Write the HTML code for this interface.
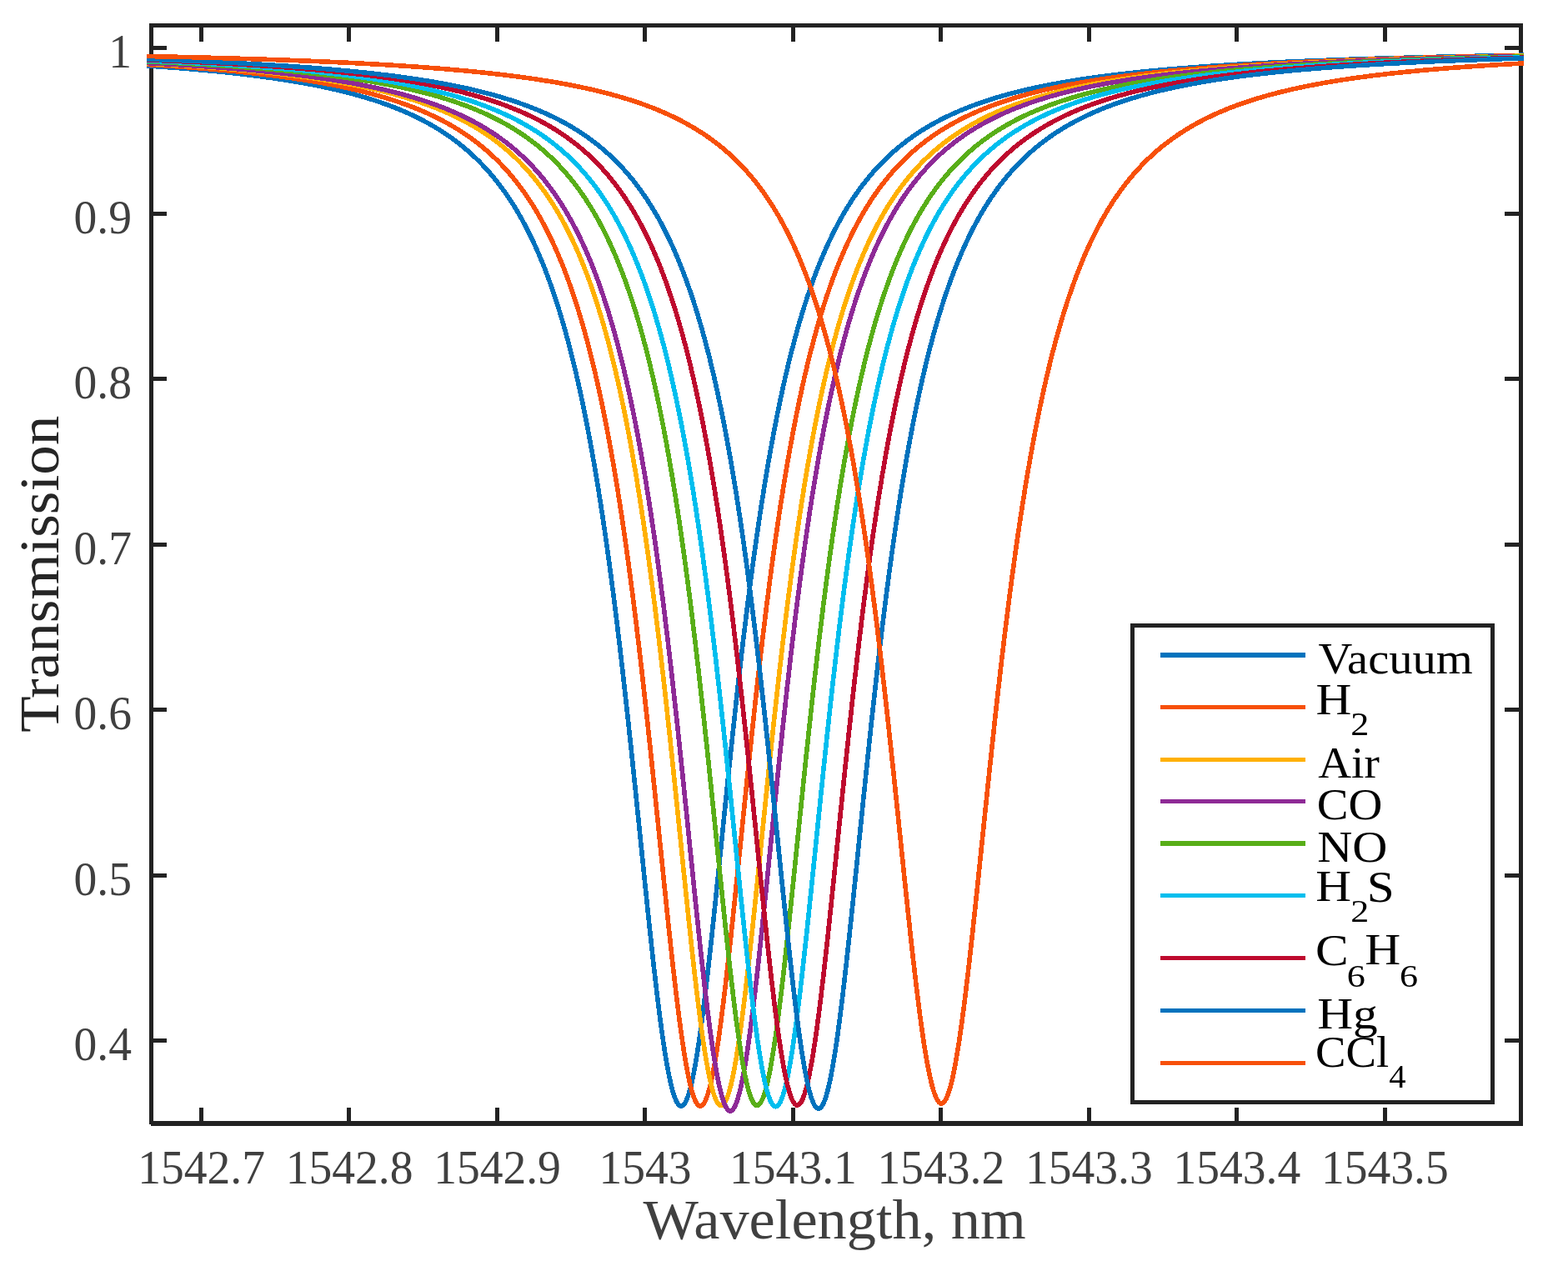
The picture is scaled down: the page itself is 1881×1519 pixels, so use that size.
<!DOCTYPE html>
<html lang="en"><head><meta charset="utf-8"><title>Transmission vs Wavelength</title>
<style>
html,body{margin:0;padding:0;background:#fff;}
body{width:1881px;height:1519px;overflow:hidden;}
svg{display:block;}
text{font-family:"Liberation Serif",serif;}
</style></head><body>
<svg width="1881" height="1519" viewBox="0 0 1881 1519">
<rect x="0" y="0" width="1881" height="1519" fill="#ffffff"/>
<defs><clipPath id="cp"><rect x="176" y="20" width="1652" height="1340"/></clipPath></defs>
<g fill="#222222" shape-rendering="crispEdges">
<rect x="179" y="28" width="5" height="1321"/>
<rect x="1822" y="28" width="5" height="1323"/>
<rect x="179" y="28" width="1648" height="5"/>
<rect x="181" y="1345" width="1646" height="6"/>
<rect x="239" y="28" width="5" height="22"/>
<rect x="239" y="1329" width="5" height="22"/>
<rect x="416" y="28" width="5" height="22"/>
<rect x="416" y="1329" width="5" height="22"/>
<rect x="594" y="28" width="5" height="22"/>
<rect x="594" y="1329" width="5" height="22"/>
<rect x="771" y="28" width="5" height="22"/>
<rect x="771" y="1329" width="5" height="22"/>
<rect x="949" y="28" width="5" height="22"/>
<rect x="949" y="1329" width="5" height="22"/>
<rect x="1126" y="28" width="5" height="22"/>
<rect x="1126" y="1329" width="5" height="22"/>
<rect x="1304" y="28" width="5" height="22"/>
<rect x="1304" y="1329" width="5" height="22"/>
<rect x="1481" y="28" width="5" height="22"/>
<rect x="1481" y="1329" width="5" height="22"/>
<rect x="1659" y="28" width="5" height="22"/>
<rect x="1659" y="1329" width="5" height="22"/>
<rect x="179" y="55" width="21" height="5"/>
<rect x="1805" y="55" width="22" height="5"/>
<rect x="179" y="254" width="21" height="5"/>
<rect x="1805" y="254" width="22" height="5"/>
<rect x="179" y="452" width="21" height="5"/>
<rect x="1805" y="452" width="22" height="5"/>
<rect x="179" y="651" width="21" height="5"/>
<rect x="1805" y="651" width="22" height="5"/>
<rect x="179" y="849" width="21" height="5"/>
<rect x="1805" y="849" width="22" height="5"/>
<rect x="179" y="1048" width="21" height="5"/>
<rect x="1805" y="1048" width="22" height="5"/>
<rect x="179" y="1246" width="21" height="5"/>
<rect x="1805" y="1246" width="22" height="5"/>
</g>
<g clip-path="url(#cp)" fill="none" stroke-width="5.6" stroke-linejoin="round" stroke-linecap="butt" shape-rendering="crispEdges">
<path stroke="#0072BD" d="M172.0,78.67 L175.0,78.86 L178.0,79.06 L181.0,79.26 L184.0,79.47 L187.0,79.67 L190.0,79.88 L193.0,80.09 L196.0,80.31 L199.0,80.52 L202.0,80.75 L205.0,80.97 L208.0,81.20 L211.0,81.43 L214.0,81.66 L217.0,81.90 L220.0,82.14 L223.0,82.39 L226.0,82.63 L229.0,82.89 L232.0,83.14 L235.0,83.40 L238.0,83.66 L241.0,83.93 L244.0,84.20 L247.0,84.48 L250.0,84.76 L253.0,85.04 L256.0,85.33 L259.0,85.63 L262.0,85.92 L265.0,86.23 L268.0,86.53 L271.0,86.85 L274.0,87.16 L277.0,87.49 L280.0,87.81 L283.0,88.15 L286.0,88.49 L289.0,88.83 L292.0,89.18 L295.0,89.54 L298.0,89.90 L301.0,90.27 L304.0,90.64 L307.0,91.02 L310.0,91.41 L313.0,91.80 L316.0,92.20 L319.0,92.61 L322.0,93.03 L325.0,93.45 L328.0,93.88 L331.0,94.32 L334.0,94.76 L337.0,95.21 L340.0,95.68 L343.0,96.15 L346.0,96.62 L349.0,97.11 L352.0,97.61 L355.0,98.11 L358.0,98.63 L361.0,99.15 L364.0,99.69 L367.0,100.23 L370.0,100.79 L373.0,101.36 L376.0,101.93 L379.0,102.52 L382.0,103.12 L385.0,103.74 L388.0,104.36 L391.0,105.00 L394.0,105.65 L397.0,106.31 L400.0,106.99 L403.0,107.68 L406.0,108.39 L409.0,109.11 L412.0,109.84 L415.0,110.59 L418.0,111.36 L421.0,112.14 L424.0,112.94 L427.0,113.76 L430.0,114.60 L433.0,115.45 L436.0,116.33 L439.0,117.22 L442.0,118.13 L445.0,119.07 L448.0,120.02 L451.0,121.00 L454.0,122.00 L457.0,123.02 L460.0,124.07 L463.0,125.14 L466.0,126.24 L469.0,127.37 L472.0,128.52 L475.0,129.70 L478.0,130.91 L481.0,132.15 L484.0,133.42 L487.0,134.72 L490.0,136.05 L493.0,137.42 L496.0,138.83 L499.0,140.27 L502.0,141.75 L505.0,143.26 L508.0,144.82 L511.0,146.42 L514.0,148.06 L517.0,149.75 L520.0,151.48 L523.0,153.27 L526.0,155.10 L529.0,156.98 L532.0,158.92 L535.0,160.91 L538.0,162.96 L541.0,165.07 L544.0,167.24 L547.0,169.47 L550.0,171.78 L553.0,174.15 L556.0,176.59 L559.0,179.11 L562.0,181.70 L565.0,184.38 L568.0,187.14 L571.0,189.99 L574.0,192.93 L577.0,195.96 L580.0,199.09 L583.0,202.33 L586.0,205.67 L589.0,209.13 L592.0,212.70 L595.0,216.39 L598.0,220.21 L601.0,224.16 L604.0,228.25 L607.0,232.49 L610.0,236.87 L613.0,241.41 L616.0,246.12 L619.0,251.00 L622.0,256.06 L625.0,261.31 L628.0,266.75 L631.0,272.40 L634.0,278.27 L637.0,284.36 L640.0,290.68 L643.0,297.26 L646.0,304.09 L649.0,311.20 L652.0,318.59 L655.0,326.28 L658.0,334.28 L661.0,342.61 L664.0,351.28 L667.0,360.31 L670.0,369.72 L671.0,372.94 L672.0,376.21 L673.0,379.53 L674.0,382.88 L675.0,386.29 L676.0,389.74 L677.0,393.24 L678.0,396.79 L679.0,400.39 L680.0,404.04 L681.0,407.75 L682.0,411.50 L683.0,415.30 L684.0,419.16 L685.0,423.08 L686.0,427.05 L687.0,431.07 L688.0,435.15 L689.0,439.29 L690.0,443.49 L691.0,447.75 L692.0,452.07 L693.0,456.44 L694.0,460.88 L695.0,465.39 L696.0,469.95 L697.0,474.59 L698.0,479.28 L699.0,484.05 L700.0,488.88 L701.0,493.78 L702.0,498.74 L703.0,503.78 L704.0,508.89 L705.0,514.07 L706.0,519.32 L707.0,524.65 L708.0,530.05 L709.0,535.53 L710.0,541.08 L711.0,546.71 L712.0,552.42 L713.0,558.20 L714.0,564.07 L715.0,570.02 L716.0,576.04 L717.0,582.15 L718.0,588.35 L719.0,594.62 L720.0,600.98 L721.0,607.43 L722.0,613.96 L723.0,620.58 L724.0,627.28 L725.0,634.07 L726.0,640.95 L727.0,647.92 L728.0,654.97 L729.0,662.12 L730.0,669.35 L731.0,676.68 L732.0,684.09 L733.0,691.59 L734.0,699.19 L735.0,706.87 L736.0,714.65 L737.0,722.51 L738.0,730.46 L739.0,738.50 L740.0,746.63 L741.0,754.85 L742.0,763.16 L743.0,771.55 L744.0,780.02 L745.0,788.58 L746.0,797.23 L747.0,805.95 L748.0,814.76 L749.0,823.65 L750.0,832.61 L751.0,841.64 L752.0,850.75 L753.0,859.93 L754.0,869.18 L755.0,878.49 L756.0,887.87 L757.0,897.30 L758.0,906.79 L759.0,916.33 L760.0,925.92 L761.0,935.56 L762.0,945.23 L763.0,954.94 L764.0,964.68 L765.0,974.45 L766.0,984.24 L767.0,994.05 L768.0,1003.86 L769.0,1013.68 L770.0,1023.49 L771.0,1033.30 L772.0,1043.09 L773.0,1052.86 L774.0,1062.59 L775.0,1072.29 L776.0,1081.95 L777.0,1091.55 L778.0,1101.09 L778.5,1105.83 L779.0,1110.56 L779.5,1115.26 L780.0,1119.95 L780.5,1124.61 L781.0,1129.25 L781.5,1133.87 L782.0,1138.46 L782.5,1143.02 L783.0,1147.56 L783.5,1152.07 L784.0,1156.55 L784.5,1160.99 L785.0,1165.41 L785.5,1169.79 L786.0,1174.14 L786.5,1178.45 L787.0,1182.72 L787.5,1186.95 L788.0,1191.15 L788.5,1195.30 L789.0,1199.41 L789.5,1203.48 L790.0,1207.50 L790.5,1211.48 L791.0,1215.41 L791.5,1219.29 L792.0,1223.12 L792.5,1226.91 L793.0,1230.63 L793.5,1234.31 L794.0,1237.93 L794.5,1241.49 L795.0,1245.00 L795.5,1248.45 L796.0,1251.84 L796.5,1255.17 L797.0,1258.44 L797.5,1261.64 L798.0,1264.78 L798.5,1267.86 L799.0,1270.86 L799.5,1273.80 L800.0,1276.68 L800.5,1279.48 L801.0,1282.21 L801.5,1284.87 L802.0,1287.45 L802.5,1289.97 L803.0,1292.41 L803.5,1294.77 L804.0,1297.05 L804.5,1299.26 L805.0,1301.39 L805.5,1303.44 L806.0,1305.41 L806.5,1307.30 L807.0,1309.11 L807.5,1310.83 L808.0,1312.47 L808.5,1314.03 L809.0,1315.50 L809.5,1316.89 L810.0,1318.19 L810.5,1319.41 L811.0,1320.54 L811.5,1321.58 L812.0,1322.54 L812.5,1323.40 L813.0,1324.18 L813.5,1324.87 L814.0,1325.47 L814.5,1325.98 L815.0,1326.41 L815.5,1326.74 L816.0,1326.98 L816.5,1327.14 L817.0,1327.20 L817.5,1327.17 L818.0,1327.05 L818.5,1326.85 L819.0,1326.55 L819.5,1326.16 L820.0,1325.69 L820.5,1325.12 L821.0,1324.47 L821.5,1323.73 L822.0,1322.89 L822.5,1321.97 L823.0,1320.97 L823.5,1319.87 L824.0,1318.69 L824.5,1317.42 L825.0,1316.07 L825.5,1314.63 L826.0,1313.10 L826.5,1311.50 L827.0,1309.81 L827.5,1308.03 L828.0,1306.17 L828.5,1304.24 L829.0,1302.22 L829.5,1300.12 L830.0,1297.95 L830.5,1295.69 L831.0,1293.36 L831.5,1290.95 L832.0,1288.47 L832.5,1285.91 L833.0,1283.28 L833.5,1280.58 L834.0,1277.80 L834.5,1274.96 L835.0,1272.05 L835.5,1269.07 L836.0,1266.02 L836.5,1262.90 L837.0,1259.73 L837.5,1256.48 L838.0,1253.18 L838.5,1249.81 L839.0,1246.39 L839.5,1242.90 L840.0,1239.36 L840.5,1235.76 L841.0,1232.11 L841.5,1228.40 L842.0,1224.64 L842.5,1220.83 L843.0,1216.97 L843.5,1213.06 L844.0,1209.10 L844.5,1205.10 L845.0,1201.05 L845.5,1196.95 L846.0,1192.81 L846.5,1188.64 L847.0,1184.42 L847.5,1180.16 L848.0,1175.86 L848.5,1171.53 L849.0,1167.17 L849.5,1162.76 L850.0,1158.33 L850.5,1153.86 L851.0,1149.37 L851.5,1144.84 L852.0,1140.29 L852.5,1135.71 L853.0,1131.10 L853.5,1126.47 L854.0,1121.82 L854.5,1117.14 L855.0,1112.44 L855.5,1107.72 L856.0,1102.99 L856.5,1098.23 L857.0,1093.46 L857.5,1088.67 L858.5,1079.06 L859.5,1069.39 L860.5,1059.67 L861.5,1049.93 L862.5,1040.15 L863.5,1030.36 L864.5,1020.55 L865.5,1010.73 L866.5,1000.91 L867.5,991.10 L868.5,981.30 L869.5,971.52 L870.5,961.76 L871.5,952.03 L872.5,942.33 L873.5,932.66 L874.5,923.04 L875.5,913.46 L876.5,903.94 L877.5,894.46 L878.5,885.05 L879.5,875.69 L880.5,866.40 L881.5,857.17 L882.5,848.01 L883.5,838.92 L884.5,829.91 L885.5,820.97 L886.5,812.11 L887.5,803.33 L888.5,794.63 L889.5,786.01 L890.5,777.47 L891.5,769.02 L892.5,760.65 L893.5,752.38 L894.5,744.18 L895.5,736.08 L896.5,728.07 L897.5,720.14 L898.5,712.30 L899.5,704.56 L900.5,696.90 L901.5,689.33 L902.5,681.86 L903.5,674.47 L904.5,667.17 L905.5,659.97 L906.5,652.85 L907.5,645.82 L908.5,638.88 L909.5,632.02 L910.5,625.26 L911.5,618.58 L912.5,611.99 L913.5,605.49 L914.5,599.07 L915.5,592.73 L916.5,586.48 L917.5,580.31 L918.5,574.23 L919.5,568.22 L920.5,562.30 L921.5,556.46 L922.5,550.70 L923.5,545.01 L924.5,539.41 L925.5,533.88 L926.5,528.42 L927.5,523.04 L928.5,517.74 L929.5,512.51 L930.5,507.35 L931.5,502.26 L932.5,497.25 L933.5,492.30 L934.5,487.42 L935.5,482.61 L936.5,477.87 L937.5,473.19 L938.5,468.58 L939.5,464.03 L940.5,459.55 L941.5,455.12 L942.5,450.76 L943.5,446.46 L944.5,442.23 L945.5,438.04 L946.5,433.92 L947.5,429.86 L948.5,425.85 L949.5,421.90 L950.5,418.00 L951.5,414.16 L952.5,410.37 L953.5,406.63 L954.5,402.94 L955.5,399.31 L956.5,395.72 L957.5,392.19 L958.5,388.70 L959.5,385.26 L960.5,381.87 L961.5,378.53 L962.5,375.23 L963.5,371.97 L964.5,368.76 L965.5,365.60 L966.5,362.47 L967.5,359.39 L970.5,350.40 L973.5,341.76 L976.5,333.46 L979.5,325.49 L982.5,317.84 L985.5,310.48 L988.5,303.40 L991.5,296.59 L994.5,290.04 L997.5,283.74 L1000.5,277.67 L1003.5,271.83 L1006.5,266.20 L1009.5,260.77 L1012.5,255.55 L1015.5,250.50 L1018.5,245.64 L1021.5,240.95 L1024.5,236.43 L1027.5,232.06 L1030.5,227.84 L1033.5,223.76 L1036.5,219.82 L1039.5,216.02 L1042.5,212.34 L1045.5,208.78 L1048.5,205.33 L1051.5,202.00 L1054.5,198.78 L1057.5,195.65 L1060.5,192.63 L1063.5,189.70 L1066.5,186.86 L1069.5,184.11 L1072.5,181.44 L1075.5,178.85 L1078.5,176.34 L1081.5,173.91 L1084.5,171.54 L1087.5,169.25 L1090.5,167.02 L1093.5,164.85 L1096.5,162.75 L1099.5,160.71 L1102.5,158.72 L1105.5,156.79 L1108.5,154.91 L1111.5,153.09 L1114.5,151.31 L1117.5,149.58 L1120.5,147.90 L1123.5,146.26 L1126.5,144.66 L1129.5,143.11 L1132.5,141.60 L1135.5,140.12 L1138.5,138.68 L1141.5,137.28 L1144.5,135.92 L1147.5,134.59 L1150.5,133.29 L1153.5,132.02 L1156.5,130.79 L1159.5,129.58 L1162.5,128.40 L1165.5,127.25 L1168.5,126.13 L1171.5,125.04 L1174.5,123.97 L1177.5,122.92 L1180.5,121.90 L1183.5,120.90 L1186.5,119.93 L1189.5,118.97 L1192.5,118.04 L1195.5,117.13 L1198.5,116.24 L1201.5,115.37 L1204.5,114.51 L1207.5,113.68 L1210.5,112.86 L1213.5,112.07 L1216.5,111.28 L1219.5,110.52 L1222.5,109.77 L1225.5,109.03 L1228.5,108.32 L1231.5,107.61 L1234.5,106.92 L1237.5,106.25 L1240.5,105.58 L1243.5,104.93 L1246.5,104.30 L1249.5,103.67 L1252.5,103.06 L1255.5,102.46 L1258.5,101.88 L1261.5,101.30 L1264.5,100.73 L1267.5,100.18 L1270.5,99.63 L1273.5,99.10 L1276.5,98.58 L1279.5,98.06 L1282.5,97.56 L1285.5,97.06 L1288.5,96.58 L1291.5,96.10 L1294.5,95.63 L1297.5,95.17 L1300.5,94.72 L1303.5,94.27 L1306.5,93.83 L1309.5,93.41 L1312.5,92.98 L1315.5,92.57 L1318.5,92.16 L1321.5,91.76 L1324.5,91.37 L1327.5,90.98 L1330.5,90.60 L1333.5,90.23 L1336.5,89.86 L1339.5,89.50 L1342.5,89.15 L1345.5,88.80 L1348.5,88.45 L1351.5,88.11 L1354.5,87.78 L1357.5,87.45 L1360.5,87.13 L1363.5,86.82 L1366.5,86.50 L1369.5,86.20 L1372.5,85.89 L1375.5,85.60 L1378.5,85.30 L1381.5,85.02 L1384.5,84.73 L1387.5,84.45 L1390.5,84.18 L1393.5,83.90 L1396.5,83.64 L1399.5,83.37 L1402.5,83.12 L1405.5,82.86 L1408.5,82.61 L1411.5,82.36 L1414.5,82.12 L1417.5,81.88 L1420.5,81.64 L1423.5,81.40 L1426.5,81.17 L1429.5,80.95 L1432.5,80.72 L1435.5,80.50 L1438.5,80.29 L1441.5,80.07 L1444.5,79.86 L1447.5,79.65 L1450.5,79.44 L1453.5,79.24 L1456.5,79.04 L1459.5,78.84 L1462.5,78.65 L1465.5,78.46 L1468.5,78.27 L1471.5,78.08 L1474.5,77.90 L1477.5,77.72 L1480.5,77.54 L1483.5,77.36 L1486.5,77.18 L1489.5,77.01 L1492.5,76.84 L1495.5,76.67 L1498.5,76.51 L1501.5,76.34 L1504.5,76.18 L1507.5,76.02 L1510.5,75.86 L1513.5,75.71 L1516.5,75.55 L1519.5,75.40 L1522.5,75.25 L1525.5,75.11 L1528.5,74.96 L1531.5,74.81 L1534.5,74.67 L1537.5,74.53 L1540.5,74.39 L1543.5,74.25 L1546.5,74.12 L1549.5,73.98 L1552.5,73.85 L1555.5,73.72 L1558.5,73.59 L1561.5,73.46 L1564.5,73.34 L1567.5,73.21 L1570.5,73.09 L1573.5,72.97 L1576.5,72.85 L1579.5,72.73 L1582.5,72.61 L1585.5,72.49 L1588.5,72.38 L1591.5,72.27 L1594.5,72.15 L1597.5,72.04 L1600.5,71.93 L1603.5,71.82 L1606.5,71.72 L1609.5,71.61 L1612.5,71.50 L1615.5,71.40 L1618.5,71.30 L1621.5,71.20 L1624.5,71.10 L1627.5,71.00 L1630.5,70.90 L1633.5,70.80 L1636.5,70.70 L1639.5,70.61 L1642.5,70.52 L1645.5,70.42 L1648.5,70.33 L1651.5,70.24 L1654.5,70.15 L1657.5,70.06 L1660.5,69.97 L1663.5,69.88 L1666.5,69.80 L1669.5,69.71 L1672.5,69.63 L1675.5,69.54 L1678.5,69.46 L1681.5,69.38 L1684.5,69.30 L1687.5,69.22 L1690.5,69.14 L1693.5,69.06 L1696.5,68.98 L1699.5,68.90 L1702.5,68.83 L1705.5,68.75 L1708.5,68.68 L1711.5,68.60 L1714.5,68.53 L1717.5,68.46 L1720.5,68.38 L1723.5,68.31 L1726.5,68.24 L1729.5,68.17 L1732.5,68.10 L1735.5,68.03 L1738.5,67.97 L1741.5,67.90 L1744.5,67.83 L1747.5,67.77 L1750.5,67.70 L1753.5,67.64 L1756.5,67.57 L1759.5,67.51 L1762.5,67.45 L1765.5,67.38 L1768.5,67.32 L1771.5,67.26 L1774.5,67.20 L1777.5,67.14 L1780.5,67.08 L1783.5,67.02 L1786.5,66.96 L1789.5,66.90 L1792.5,66.85 L1795.5,66.79 L1798.5,66.73 L1801.5,66.68 L1804.5,66.62 L1807.5,66.57 L1810.5,66.51 L1813.5,66.46 L1816.5,66.41 L1819.5,66.35 L1822.5,66.30 L1825.5,66.25 L1828.5,66.20 L1831.5,66.15"/>
<path stroke="#F7500A" d="M172.0,77.26 L175.0,77.43 L178.0,77.61 L181.0,77.79 L184.0,77.98 L187.0,78.16 L190.0,78.35 L193.0,78.54 L196.0,78.73 L199.0,78.93 L202.0,79.13 L205.0,79.33 L208.0,79.53 L211.0,79.74 L214.0,79.95 L217.0,80.16 L220.0,80.38 L223.0,80.60 L226.0,80.82 L229.0,81.05 L232.0,81.27 L235.0,81.51 L238.0,81.74 L241.0,81.98 L244.0,82.22 L247.0,82.47 L250.0,82.72 L253.0,82.97 L256.0,83.23 L259.0,83.49 L262.0,83.75 L265.0,84.02 L268.0,84.29 L271.0,84.57 L274.0,84.85 L277.0,85.14 L280.0,85.43 L283.0,85.72 L286.0,86.02 L289.0,86.33 L292.0,86.64 L295.0,86.95 L298.0,87.27 L301.0,87.60 L304.0,87.93 L307.0,88.26 L310.0,88.60 L313.0,88.95 L316.0,89.30 L319.0,89.66 L322.0,90.02 L325.0,90.39 L328.0,90.77 L331.0,91.15 L334.0,91.54 L337.0,91.94 L340.0,92.34 L343.0,92.75 L346.0,93.17 L349.0,93.59 L352.0,94.02 L355.0,94.46 L358.0,94.91 L361.0,95.37 L364.0,95.83 L367.0,96.30 L370.0,96.79 L373.0,97.28 L376.0,97.78 L379.0,98.28 L382.0,98.80 L385.0,99.33 L388.0,99.87 L391.0,100.42 L394.0,100.98 L397.0,101.55 L400.0,102.13 L403.0,102.72 L406.0,103.33 L409.0,103.94 L412.0,104.57 L415.0,105.21 L418.0,105.87 L421.0,106.54 L424.0,107.22 L427.0,107.91 L430.0,108.62 L433.0,109.35 L436.0,110.09 L439.0,110.85 L442.0,111.62 L445.0,112.41 L448.0,113.22 L451.0,114.04 L454.0,114.88 L457.0,115.74 L460.0,116.62 L463.0,117.52 L466.0,118.44 L469.0,119.38 L472.0,120.35 L475.0,121.33 L478.0,122.34 L481.0,123.37 L484.0,124.43 L487.0,125.51 L490.0,126.61 L493.0,127.75 L496.0,128.91 L499.0,130.10 L502.0,131.32 L505.0,132.57 L508.0,133.85 L511.0,135.16 L514.0,136.51 L517.0,137.89 L520.0,139.30 L523.0,140.76 L526.0,142.25 L529.0,143.78 L532.0,145.35 L535.0,146.96 L538.0,148.62 L541.0,150.32 L544.0,152.07 L547.0,153.87 L550.0,155.72 L553.0,157.62 L556.0,159.58 L559.0,161.59 L562.0,163.65 L565.0,165.78 L568.0,167.98 L571.0,170.23 L574.0,172.56 L577.0,174.95 L580.0,177.42 L583.0,179.96 L586.0,182.59 L589.0,185.29 L592.0,188.08 L595.0,190.96 L598.0,193.93 L601.0,196.99 L604.0,200.16 L607.0,203.43 L610.0,206.81 L613.0,210.30 L616.0,213.92 L619.0,217.65 L622.0,221.51 L625.0,225.51 L628.0,229.65 L631.0,233.93 L634.0,238.37 L637.0,242.97 L640.0,247.73 L643.0,252.67 L646.0,257.79 L649.0,263.10 L652.0,268.61 L655.0,274.33 L658.0,280.27 L661.0,286.44 L664.0,292.85 L667.0,299.51 L670.0,306.43 L673.0,313.63 L676.0,321.12 L679.0,328.91 L682.0,337.02 L685.0,345.46 L688.0,354.25 L691.0,363.41 L692.0,366.54 L693.0,369.72 L694.0,372.94 L695.0,376.21 L696.0,379.53 L697.0,382.88 L698.0,386.29 L699.0,389.74 L700.0,393.24 L701.0,396.79 L702.0,400.39 L703.0,404.04 L704.0,407.75 L705.0,411.50 L706.0,415.30 L707.0,419.16 L708.0,423.08 L709.0,427.05 L710.0,431.07 L711.0,435.15 L712.0,439.29 L713.0,443.49 L714.0,447.75 L715.0,452.07 L716.0,456.44 L717.0,460.88 L718.0,465.39 L719.0,469.95 L720.0,474.59 L721.0,479.28 L722.0,484.05 L723.0,488.88 L724.0,493.78 L725.0,498.74 L726.0,503.78 L727.0,508.89 L728.0,514.07 L729.0,519.32 L730.0,524.65 L731.0,530.05 L732.0,535.53 L733.0,541.08 L734.0,546.71 L735.0,552.42 L736.0,558.20 L737.0,564.07 L738.0,570.02 L739.0,576.04 L740.0,582.15 L741.0,588.35 L742.0,594.62 L743.0,600.98 L744.0,607.43 L745.0,613.96 L746.0,620.58 L747.0,627.28 L748.0,634.07 L749.0,640.95 L750.0,647.92 L751.0,654.97 L752.0,662.12 L753.0,669.35 L754.0,676.68 L755.0,684.09 L756.0,691.59 L757.0,699.19 L758.0,706.87 L759.0,714.65 L760.0,722.51 L761.0,730.46 L762.0,738.50 L763.0,746.63 L764.0,754.85 L765.0,763.16 L766.0,771.55 L767.0,780.02 L768.0,788.58 L769.0,797.23 L770.0,805.95 L771.0,814.76 L772.0,823.65 L773.0,832.61 L774.0,841.64 L775.0,850.75 L776.0,859.93 L777.0,869.18 L778.0,878.49 L779.0,887.87 L780.0,897.30 L781.0,906.79 L782.0,916.33 L783.0,925.92 L784.0,935.56 L785.0,945.23 L786.0,954.94 L787.0,964.68 L788.0,974.45 L789.0,984.24 L790.0,994.05 L791.0,1003.86 L792.0,1013.68 L793.0,1023.49 L794.0,1033.30 L795.0,1043.09 L796.0,1052.86 L797.0,1062.59 L798.0,1072.29 L799.0,1081.95 L800.0,1091.55 L801.0,1101.09 L801.5,1105.83 L802.0,1110.56 L802.5,1115.26 L803.0,1119.95 L803.5,1124.61 L804.0,1129.25 L804.5,1133.87 L805.0,1138.46 L805.5,1143.02 L806.0,1147.56 L806.5,1152.07 L807.0,1156.55 L807.5,1160.99 L808.0,1165.41 L808.5,1169.79 L809.0,1174.14 L809.5,1178.45 L810.0,1182.72 L810.5,1186.95 L811.0,1191.15 L811.5,1195.30 L812.0,1199.41 L812.5,1203.48 L813.0,1207.50 L813.5,1211.48 L814.0,1215.41 L814.5,1219.29 L815.0,1223.12 L815.5,1226.91 L816.0,1230.63 L816.5,1234.31 L817.0,1237.93 L817.5,1241.49 L818.0,1245.00 L818.5,1248.45 L819.0,1251.84 L819.5,1255.17 L820.0,1258.44 L820.5,1261.64 L821.0,1264.78 L821.5,1267.86 L822.0,1270.86 L822.5,1273.80 L823.0,1276.68 L823.5,1279.48 L824.0,1282.21 L824.5,1284.87 L825.0,1287.45 L825.5,1289.97 L826.0,1292.41 L826.5,1294.77 L827.0,1297.05 L827.5,1299.26 L828.0,1301.39 L828.5,1303.44 L829.0,1305.41 L829.5,1307.30 L830.0,1309.11 L830.5,1310.83 L831.0,1312.47 L831.5,1314.03 L832.0,1315.50 L832.5,1316.89 L833.0,1318.19 L833.5,1319.41 L834.0,1320.54 L834.5,1321.58 L835.0,1322.54 L835.5,1323.40 L836.0,1324.18 L836.5,1324.87 L837.0,1325.47 L837.5,1325.98 L838.0,1326.41 L838.5,1326.74 L839.0,1326.98 L839.5,1327.14 L840.0,1327.20 L840.5,1327.17 L841.0,1327.05 L841.5,1326.85 L842.0,1326.55 L842.5,1326.16 L843.0,1325.69 L843.5,1325.12 L844.0,1324.47 L844.5,1323.73 L845.0,1322.89 L845.5,1321.97 L846.0,1320.97 L846.5,1319.87 L847.0,1318.69 L847.5,1317.42 L848.0,1316.07 L848.5,1314.63 L849.0,1313.10 L849.5,1311.50 L850.0,1309.81 L850.5,1308.03 L851.0,1306.17 L851.5,1304.24 L852.0,1302.22 L852.5,1300.12 L853.0,1297.95 L853.5,1295.69 L854.0,1293.36 L854.5,1290.95 L855.0,1288.47 L855.5,1285.91 L856.0,1283.28 L856.5,1280.58 L857.0,1277.80 L857.5,1274.96 L858.0,1272.05 L858.5,1269.07 L859.0,1266.02 L859.5,1262.90 L860.0,1259.73 L860.5,1256.48 L861.0,1253.18 L861.5,1249.81 L862.0,1246.39 L862.5,1242.90 L863.0,1239.36 L863.5,1235.76 L864.0,1232.11 L864.5,1228.40 L865.0,1224.64 L865.5,1220.83 L866.0,1216.97 L866.5,1213.06 L867.0,1209.10 L867.5,1205.10 L868.0,1201.05 L868.5,1196.95 L869.0,1192.81 L869.5,1188.64 L870.0,1184.42 L870.5,1180.16 L871.0,1175.86 L871.5,1171.53 L872.0,1167.17 L872.5,1162.76 L873.0,1158.33 L873.5,1153.86 L874.0,1149.37 L874.5,1144.84 L875.0,1140.29 L875.5,1135.71 L876.0,1131.10 L876.5,1126.47 L877.0,1121.82 L877.5,1117.14 L878.0,1112.44 L878.5,1107.72 L879.0,1102.99 L879.5,1098.23 L880.0,1093.46 L880.5,1088.67 L881.5,1079.06 L882.5,1069.39 L883.5,1059.67 L884.5,1049.93 L885.5,1040.15 L886.5,1030.36 L887.5,1020.55 L888.5,1010.73 L889.5,1000.91 L890.5,991.10 L891.5,981.30 L892.5,971.52 L893.5,961.76 L894.5,952.03 L895.5,942.33 L896.5,932.66 L897.5,923.04 L898.5,913.46 L899.5,903.94 L900.5,894.46 L901.5,885.05 L902.5,875.69 L903.5,866.40 L904.5,857.17 L905.5,848.01 L906.5,838.92 L907.5,829.91 L908.5,820.97 L909.5,812.11 L910.5,803.33 L911.5,794.63 L912.5,786.01 L913.5,777.47 L914.5,769.02 L915.5,760.65 L916.5,752.38 L917.5,744.18 L918.5,736.08 L919.5,728.07 L920.5,720.14 L921.5,712.30 L922.5,704.56 L923.5,696.90 L924.5,689.33 L925.5,681.86 L926.5,674.47 L927.5,667.17 L928.5,659.97 L929.5,652.85 L930.5,645.82 L931.5,638.88 L932.5,632.02 L933.5,625.26 L934.5,618.58 L935.5,611.99 L936.5,605.49 L937.5,599.07 L938.5,592.73 L939.5,586.48 L940.5,580.31 L941.5,574.23 L942.5,568.22 L943.5,562.30 L944.5,556.46 L945.5,550.70 L946.5,545.01 L947.5,539.41 L948.5,533.88 L949.5,528.42 L950.5,523.04 L951.5,517.74 L952.5,512.51 L953.5,507.35 L954.5,502.26 L955.5,497.25 L956.5,492.30 L957.5,487.42 L958.5,482.61 L959.5,477.87 L960.5,473.19 L961.5,468.58 L962.5,464.03 L963.5,459.55 L964.5,455.12 L965.5,450.76 L966.5,446.46 L967.5,442.23 L968.5,438.04 L969.5,433.92 L970.5,429.86 L971.5,425.85 L972.5,421.90 L973.5,418.00 L974.5,414.16 L975.5,410.37 L976.5,406.63 L977.5,402.94 L978.5,399.31 L979.5,395.72 L980.5,392.19 L981.5,388.70 L982.5,385.26 L983.5,381.87 L984.5,378.53 L985.5,375.23 L986.5,371.97 L987.5,368.76 L988.5,365.60 L989.5,362.47 L990.5,359.39 L993.5,350.40 L996.5,341.76 L999.5,333.46 L1002.5,325.49 L1005.5,317.84 L1008.5,310.48 L1011.5,303.40 L1014.5,296.59 L1017.5,290.04 L1020.5,283.74 L1023.5,277.67 L1026.5,271.83 L1029.5,266.20 L1032.5,260.77 L1035.5,255.55 L1038.5,250.50 L1041.5,245.64 L1044.5,240.95 L1047.5,236.43 L1050.5,232.06 L1053.5,227.84 L1056.5,223.76 L1059.5,219.82 L1062.5,216.02 L1065.5,212.34 L1068.5,208.78 L1071.5,205.33 L1074.5,202.00 L1077.5,198.78 L1080.5,195.65 L1083.5,192.63 L1086.5,189.70 L1089.5,186.86 L1092.5,184.11 L1095.5,181.44 L1098.5,178.85 L1101.5,176.34 L1104.5,173.91 L1107.5,171.54 L1110.5,169.25 L1113.5,167.02 L1116.5,164.85 L1119.5,162.75 L1122.5,160.71 L1125.5,158.72 L1128.5,156.79 L1131.5,154.91 L1134.5,153.09 L1137.5,151.31 L1140.5,149.58 L1143.5,147.90 L1146.5,146.26 L1149.5,144.66 L1152.5,143.11 L1155.5,141.60 L1158.5,140.12 L1161.5,138.68 L1164.5,137.28 L1167.5,135.92 L1170.5,134.59 L1173.5,133.29 L1176.5,132.02 L1179.5,130.79 L1182.5,129.58 L1185.5,128.40 L1188.5,127.25 L1191.5,126.13 L1194.5,125.04 L1197.5,123.97 L1200.5,122.92 L1203.5,121.90 L1206.5,120.90 L1209.5,119.93 L1212.5,118.97 L1215.5,118.04 L1218.5,117.13 L1221.5,116.24 L1224.5,115.37 L1227.5,114.51 L1230.5,113.68 L1233.5,112.86 L1236.5,112.07 L1239.5,111.28 L1242.5,110.52 L1245.5,109.77 L1248.5,109.03 L1251.5,108.32 L1254.5,107.61 L1257.5,106.92 L1260.5,106.25 L1263.5,105.58 L1266.5,104.93 L1269.5,104.30 L1272.5,103.67 L1275.5,103.06 L1278.5,102.46 L1281.5,101.88 L1284.5,101.30 L1287.5,100.73 L1290.5,100.18 L1293.5,99.63 L1296.5,99.10 L1299.5,98.58 L1302.5,98.06 L1305.5,97.56 L1308.5,97.06 L1311.5,96.58 L1314.5,96.10 L1317.5,95.63 L1320.5,95.17 L1323.5,94.72 L1326.5,94.27 L1329.5,93.83 L1332.5,93.41 L1335.5,92.98 L1338.5,92.57 L1341.5,92.16 L1344.5,91.76 L1347.5,91.37 L1350.5,90.98 L1353.5,90.60 L1356.5,90.23 L1359.5,89.86 L1362.5,89.50 L1365.5,89.15 L1368.5,88.80 L1371.5,88.45 L1374.5,88.11 L1377.5,87.78 L1380.5,87.45 L1383.5,87.13 L1386.5,86.82 L1389.5,86.50 L1392.5,86.20 L1395.5,85.89 L1398.5,85.60 L1401.5,85.30 L1404.5,85.02 L1407.5,84.73 L1410.5,84.45 L1413.5,84.18 L1416.5,83.90 L1419.5,83.64 L1422.5,83.37 L1425.5,83.12 L1428.5,82.86 L1431.5,82.61 L1434.5,82.36 L1437.5,82.12 L1440.5,81.88 L1443.5,81.64 L1446.5,81.40 L1449.5,81.17 L1452.5,80.95 L1455.5,80.72 L1458.5,80.50 L1461.5,80.29 L1464.5,80.07 L1467.5,79.86 L1470.5,79.65 L1473.5,79.44 L1476.5,79.24 L1479.5,79.04 L1482.5,78.84 L1485.5,78.65 L1488.5,78.46 L1491.5,78.27 L1494.5,78.08 L1497.5,77.90 L1500.5,77.72 L1503.5,77.54 L1506.5,77.36 L1509.5,77.18 L1512.5,77.01 L1515.5,76.84 L1518.5,76.67 L1521.5,76.51 L1524.5,76.34 L1527.5,76.18 L1530.5,76.02 L1533.5,75.86 L1536.5,75.71 L1539.5,75.55 L1542.5,75.40 L1545.5,75.25 L1548.5,75.11 L1551.5,74.96 L1554.5,74.81 L1557.5,74.67 L1560.5,74.53 L1563.5,74.39 L1566.5,74.25 L1569.5,74.12 L1572.5,73.98 L1575.5,73.85 L1578.5,73.72 L1581.5,73.59 L1584.5,73.46 L1587.5,73.34 L1590.5,73.21 L1593.5,73.09 L1596.5,72.97 L1599.5,72.85 L1602.5,72.73 L1605.5,72.61 L1608.5,72.49 L1611.5,72.38 L1614.5,72.27 L1617.5,72.15 L1620.5,72.04 L1623.5,71.93 L1626.5,71.82 L1629.5,71.72 L1632.5,71.61 L1635.5,71.50 L1638.5,71.40 L1641.5,71.30 L1644.5,71.20 L1647.5,71.10 L1650.5,71.00 L1653.5,70.90 L1656.5,70.80 L1659.5,70.70 L1662.5,70.61 L1665.5,70.52 L1668.5,70.42 L1671.5,70.33 L1674.5,70.24 L1677.5,70.15 L1680.5,70.06 L1683.5,69.97 L1686.5,69.88 L1689.5,69.80 L1692.5,69.71 L1695.5,69.63 L1698.5,69.54 L1701.5,69.46 L1704.5,69.38 L1707.5,69.30 L1710.5,69.22 L1713.5,69.14 L1716.5,69.06 L1719.5,68.98 L1722.5,68.90 L1725.5,68.83 L1728.5,68.75 L1731.5,68.68 L1734.5,68.60 L1737.5,68.53 L1740.5,68.46 L1743.5,68.38 L1746.5,68.31 L1749.5,68.24 L1752.5,68.17 L1755.5,68.10 L1758.5,68.03 L1761.5,67.97 L1764.5,67.90 L1767.5,67.83 L1770.5,67.77 L1773.5,67.70 L1776.5,67.64 L1779.5,67.57 L1782.5,67.51 L1785.5,67.45 L1788.5,67.38 L1791.5,67.32 L1794.5,67.26 L1797.5,67.20 L1800.5,67.14 L1803.5,67.08 L1806.5,67.02 L1809.5,66.96 L1812.5,66.90 L1815.5,66.85 L1818.5,66.79 L1821.5,66.73 L1824.5,66.68 L1827.5,66.62 L1830.5,66.57"/>
<path stroke="#FFB000" d="M172.0,75.87 L175.0,76.03 L178.0,76.19 L181.0,76.35 L184.0,76.52 L187.0,76.68 L190.0,76.85 L193.0,77.02 L196.0,77.19 L199.0,77.37 L202.0,77.55 L205.0,77.73 L208.0,77.91 L211.0,78.09 L214.0,78.28 L217.0,78.47 L220.0,78.66 L223.0,78.86 L226.0,79.05 L229.0,79.26 L232.0,79.46 L235.0,79.66 L238.0,79.87 L241.0,80.08 L244.0,80.30 L247.0,80.52 L250.0,80.74 L253.0,80.96 L256.0,81.19 L259.0,81.42 L262.0,81.65 L265.0,81.89 L268.0,82.13 L271.0,82.38 L274.0,82.63 L277.0,82.88 L280.0,83.13 L283.0,83.39 L286.0,83.66 L289.0,83.92 L292.0,84.20 L295.0,84.47 L298.0,84.75 L301.0,85.04 L304.0,85.32 L307.0,85.62 L310.0,85.92 L313.0,86.22 L316.0,86.53 L319.0,86.84 L322.0,87.16 L325.0,87.48 L328.0,87.81 L331.0,88.14 L334.0,88.48 L337.0,88.82 L340.0,89.17 L343.0,89.53 L346.0,89.89 L349.0,90.26 L352.0,90.63 L355.0,91.01 L358.0,91.40 L361.0,91.79 L364.0,92.20 L367.0,92.60 L370.0,93.02 L373.0,93.44 L376.0,93.87 L379.0,94.31 L382.0,94.75 L385.0,95.21 L388.0,95.67 L391.0,96.14 L394.0,96.62 L397.0,97.10 L400.0,97.60 L403.0,98.10 L406.0,98.62 L409.0,99.15 L412.0,99.68 L415.0,100.23 L418.0,100.78 L421.0,101.35 L424.0,101.93 L427.0,102.51 L430.0,103.12 L433.0,103.73 L436.0,104.35 L439.0,104.99 L442.0,105.64 L445.0,106.30 L448.0,106.98 L451.0,107.67 L454.0,108.38 L457.0,109.10 L460.0,109.83 L463.0,110.59 L466.0,111.35 L469.0,112.14 L472.0,112.94 L475.0,113.76 L478.0,114.59 L481.0,115.45 L484.0,116.32 L487.0,117.21 L490.0,118.13 L493.0,119.06 L496.0,120.02 L499.0,120.99 L502.0,121.99 L505.0,123.02 L508.0,124.07 L511.0,125.14 L514.0,126.24 L517.0,127.36 L520.0,128.51 L523.0,129.69 L526.0,130.90 L529.0,132.14 L532.0,133.41 L535.0,134.71 L538.0,136.05 L541.0,137.42 L544.0,138.82 L547.0,140.26 L550.0,141.74 L553.0,143.26 L556.0,144.82 L559.0,146.42 L562.0,148.06 L565.0,149.75 L568.0,151.48 L571.0,153.27 L574.0,155.10 L577.0,156.98 L580.0,158.92 L583.0,160.91 L586.0,162.96 L589.0,165.07 L592.0,167.24 L595.0,169.48 L598.0,171.78 L601.0,174.15 L604.0,176.60 L607.0,179.12 L610.0,181.71 L613.0,184.39 L616.0,187.15 L619.0,190.00 L622.0,192.94 L625.0,195.98 L628.0,199.11 L631.0,202.35 L634.0,205.69 L637.0,209.15 L640.0,212.72 L643.0,216.42 L646.0,220.24 L649.0,224.19 L652.0,228.28 L655.0,232.52 L658.0,236.91 L661.0,241.45 L664.0,246.16 L667.0,251.04 L670.0,256.11 L673.0,261.36 L676.0,266.80 L679.0,272.46 L682.0,278.33 L685.0,284.42 L688.0,290.75 L691.0,297.33 L694.0,304.17 L697.0,311.28 L700.0,318.68 L703.0,326.37 L706.0,334.38 L709.0,342.71 L712.0,351.39 L715.0,360.43 L718.0,369.84 L719.0,373.07 L720.0,376.34 L721.0,379.66 L722.0,383.02 L723.0,386.43 L724.0,389.88 L725.0,393.39 L726.0,396.94 L727.0,400.54 L728.0,404.19 L729.0,407.90 L730.0,411.65 L731.0,415.46 L732.0,419.32 L733.0,423.24 L734.0,427.21 L735.0,431.24 L736.0,435.33 L737.0,439.47 L738.0,443.67 L739.0,447.93 L740.0,452.25 L741.0,456.63 L742.0,461.08 L743.0,465.58 L744.0,470.15 L745.0,474.79 L746.0,479.49 L747.0,484.26 L748.0,489.09 L749.0,493.99 L750.0,498.97 L751.0,504.01 L752.0,509.12 L753.0,514.30 L754.0,519.56 L755.0,524.89 L756.0,530.30 L757.0,535.78 L758.0,541.33 L759.0,546.97 L760.0,552.68 L761.0,558.47 L762.0,564.34 L763.0,570.29 L764.0,576.32 L765.0,582.44 L766.0,588.64 L767.0,594.92 L768.0,601.28 L769.0,607.73 L770.0,614.27 L771.0,620.89 L772.0,627.60 L773.0,634.39 L774.0,641.28 L775.0,648.25 L776.0,655.31 L777.0,662.46 L778.0,669.70 L779.0,677.02 L780.0,684.44 L781.0,691.95 L782.0,699.55 L783.0,707.24 L784.0,715.01 L785.0,722.88 L786.0,730.84 L787.0,738.88 L788.0,747.02 L789.0,755.24 L790.0,763.55 L791.0,771.94 L792.0,780.42 L793.0,788.98 L794.0,797.63 L795.0,806.36 L796.0,815.17 L797.0,824.05 L798.0,833.02 L799.0,842.06 L800.0,851.17 L801.0,860.35 L802.0,869.60 L803.0,878.91 L804.0,888.28 L805.0,897.72 L806.0,907.21 L807.0,916.75 L808.0,926.34 L809.0,935.97 L810.0,945.64 L811.0,955.35 L812.0,965.09 L813.0,974.85 L814.0,984.64 L815.0,994.44 L816.0,1004.24 L817.0,1014.06 L818.0,1023.86 L819.0,1033.66 L820.0,1043.44 L821.0,1053.20 L822.0,1062.93 L823.0,1072.62 L824.0,1082.26 L825.0,1091.85 L826.0,1101.38 L826.5,1106.12 L827.0,1110.84 L827.5,1115.54 L828.0,1120.21 L828.5,1124.87 L829.0,1129.50 L829.5,1134.11 L830.0,1138.69 L830.5,1143.25 L831.0,1147.78 L831.5,1152.28 L832.0,1156.75 L832.5,1161.18 L833.0,1165.59 L833.5,1169.96 L834.0,1174.30 L834.5,1178.60 L835.0,1182.86 L835.5,1187.08 L836.0,1191.27 L836.5,1195.41 L837.0,1199.51 L837.5,1203.57 L838.0,1207.58 L838.5,1211.54 L839.0,1215.46 L839.5,1219.33 L840.0,1223.15 L840.5,1226.92 L841.0,1230.63 L841.5,1234.30 L842.0,1237.90 L842.5,1241.45 L843.0,1244.95 L843.5,1248.38 L844.0,1251.76 L844.5,1255.07 L845.0,1258.33 L845.5,1261.52 L846.0,1264.64 L846.5,1267.70 L847.0,1270.69 L847.5,1273.62 L848.0,1276.47 L848.5,1279.26 L849.0,1281.97 L849.5,1284.62 L850.0,1287.19 L850.5,1289.68 L851.0,1292.11 L851.5,1294.45 L852.0,1296.72 L852.5,1298.91 L853.0,1301.02 L853.5,1303.05 L854.0,1305.01 L854.5,1306.88 L855.0,1308.67 L855.5,1310.38 L856.0,1312.00 L856.5,1313.54 L857.0,1314.99 L857.5,1316.36 L858.0,1317.65 L858.5,1318.85 L859.0,1319.96 L859.5,1320.98 L860.0,1321.92 L860.5,1322.77 L861.0,1323.53 L861.5,1324.20 L862.0,1324.78 L862.5,1325.28 L863.0,1325.68 L863.5,1326.00 L864.0,1326.22 L864.5,1326.36 L865.0,1326.40 L865.5,1326.36 L866.0,1326.22 L866.5,1326.00 L867.0,1325.68 L867.5,1325.28 L868.0,1324.78 L868.5,1324.20 L869.0,1323.53 L869.5,1322.77 L870.0,1321.92 L870.5,1320.98 L871.0,1319.96 L871.5,1318.85 L872.0,1317.65 L872.5,1316.36 L873.0,1314.99 L873.5,1313.54 L874.0,1312.00 L874.5,1310.38 L875.0,1308.67 L875.5,1306.88 L876.0,1305.01 L876.5,1303.05 L877.0,1301.02 L877.5,1298.91 L878.0,1296.72 L878.5,1294.45 L879.0,1292.11 L879.5,1289.68 L880.0,1287.19 L880.5,1284.62 L881.0,1281.97 L881.5,1279.26 L882.0,1276.47 L882.5,1273.62 L883.0,1270.69 L883.5,1267.70 L884.0,1264.64 L884.5,1261.52 L885.0,1258.33 L885.5,1255.07 L886.0,1251.76 L886.5,1248.38 L887.0,1244.95 L887.5,1241.45 L888.0,1237.90 L888.5,1234.30 L889.0,1230.63 L889.5,1226.92 L890.0,1223.15 L890.5,1219.33 L891.0,1215.46 L891.5,1211.54 L892.0,1207.58 L892.5,1203.57 L893.0,1199.51 L893.5,1195.41 L894.0,1191.27 L894.5,1187.08 L895.0,1182.86 L895.5,1178.60 L896.0,1174.30 L896.5,1169.96 L897.0,1165.59 L897.5,1161.18 L898.0,1156.75 L898.5,1152.28 L899.0,1147.78 L899.5,1143.25 L900.0,1138.69 L900.5,1134.11 L901.0,1129.50 L901.5,1124.87 L902.0,1120.21 L902.5,1115.54 L903.0,1110.84 L903.5,1106.12 L904.0,1101.38 L904.5,1096.62 L905.0,1091.85 L906.0,1082.26 L907.0,1072.62 L908.0,1062.93 L909.0,1053.20 L910.0,1043.44 L911.0,1033.66 L912.0,1023.86 L913.0,1014.06 L914.0,1004.24 L915.0,994.44 L916.0,984.64 L917.0,974.85 L918.0,965.09 L919.0,955.35 L920.0,945.64 L921.0,935.97 L922.0,926.34 L923.0,916.75 L924.0,907.21 L925.0,897.72 L926.0,888.28 L927.0,878.91 L928.0,869.60 L929.0,860.35 L930.0,851.17 L931.0,842.06 L932.0,833.02 L933.0,824.05 L934.0,815.17 L935.0,806.36 L936.0,797.63 L937.0,788.98 L938.0,780.42 L939.0,771.94 L940.0,763.55 L941.0,755.24 L942.0,747.02 L943.0,738.88 L944.0,730.84 L945.0,722.88 L946.0,715.01 L947.0,707.24 L948.0,699.55 L949.0,691.95 L950.0,684.44 L951.0,677.02 L952.0,669.70 L953.0,662.46 L954.0,655.31 L955.0,648.25 L956.0,641.28 L957.0,634.39 L958.0,627.60 L959.0,620.89 L960.0,614.27 L961.0,607.73 L962.0,601.28 L963.0,594.92 L964.0,588.64 L965.0,582.44 L966.0,576.32 L967.0,570.29 L968.0,564.34 L969.0,558.47 L970.0,552.68 L971.0,546.97 L972.0,541.33 L973.0,535.78 L974.0,530.30 L975.0,524.89 L976.0,519.56 L977.0,514.30 L978.0,509.12 L979.0,504.01 L980.0,498.97 L981.0,493.99 L982.0,489.09 L983.0,484.26 L984.0,479.49 L985.0,474.79 L986.0,470.15 L987.0,465.58 L988.0,461.08 L989.0,456.63 L990.0,452.25 L991.0,447.93 L992.0,443.67 L993.0,439.47 L994.0,435.33 L995.0,431.24 L996.0,427.21 L997.0,423.24 L998.0,419.32 L999.0,415.46 L1000.0,411.65 L1001.0,407.90 L1002.0,404.19 L1003.0,400.54 L1004.0,396.94 L1005.0,393.39 L1006.0,389.88 L1007.0,386.43 L1008.0,383.02 L1009.0,379.66 L1010.0,376.34 L1011.0,373.07 L1012.0,369.84 L1013.0,366.66 L1014.0,363.52 L1015.0,360.43 L1018.0,351.39 L1021.0,342.71 L1024.0,334.38 L1027.0,326.37 L1030.0,318.68 L1033.0,311.28 L1036.0,304.17 L1039.0,297.33 L1042.0,290.75 L1045.0,284.42 L1048.0,278.33 L1051.0,272.46 L1054.0,266.80 L1057.0,261.36 L1060.0,256.11 L1063.0,251.04 L1066.0,246.16 L1069.0,241.45 L1072.0,236.91 L1075.0,232.52 L1078.0,228.28 L1081.0,224.19 L1084.0,220.24 L1087.0,216.42 L1090.0,212.72 L1093.0,209.15 L1096.0,205.69 L1099.0,202.35 L1102.0,199.11 L1105.0,195.98 L1108.0,192.94 L1111.0,190.00 L1114.0,187.15 L1117.0,184.39 L1120.0,181.71 L1123.0,179.12 L1126.0,176.60 L1129.0,174.15 L1132.0,171.78 L1135.0,169.48 L1138.0,167.24 L1141.0,165.07 L1144.0,162.96 L1147.0,160.91 L1150.0,158.92 L1153.0,156.98 L1156.0,155.10 L1159.0,153.27 L1162.0,151.48 L1165.0,149.75 L1168.0,148.06 L1171.0,146.42 L1174.0,144.82 L1177.0,143.26 L1180.0,141.74 L1183.0,140.26 L1186.0,138.82 L1189.0,137.42 L1192.0,136.05 L1195.0,134.71 L1198.0,133.41 L1201.0,132.14 L1204.0,130.90 L1207.0,129.69 L1210.0,128.51 L1213.0,127.36 L1216.0,126.24 L1219.0,125.14 L1222.0,124.07 L1225.0,123.02 L1228.0,121.99 L1231.0,120.99 L1234.0,120.02 L1237.0,119.06 L1240.0,118.13 L1243.0,117.21 L1246.0,116.32 L1249.0,115.45 L1252.0,114.59 L1255.0,113.76 L1258.0,112.94 L1261.0,112.14 L1264.0,111.35 L1267.0,110.59 L1270.0,109.83 L1273.0,109.10 L1276.0,108.38 L1279.0,107.67 L1282.0,106.98 L1285.0,106.30 L1288.0,105.64 L1291.0,104.99 L1294.0,104.35 L1297.0,103.73 L1300.0,103.12 L1303.0,102.51 L1306.0,101.93 L1309.0,101.35 L1312.0,100.78 L1315.0,100.23 L1318.0,99.68 L1321.0,99.15 L1324.0,98.62 L1327.0,98.10 L1330.0,97.60 L1333.0,97.10 L1336.0,96.62 L1339.0,96.14 L1342.0,95.67 L1345.0,95.21 L1348.0,94.75 L1351.0,94.31 L1354.0,93.87 L1357.0,93.44 L1360.0,93.02 L1363.0,92.60 L1366.0,92.20 L1369.0,91.79 L1372.0,91.40 L1375.0,91.01 L1378.0,90.63 L1381.0,90.26 L1384.0,89.89 L1387.0,89.53 L1390.0,89.17 L1393.0,88.82 L1396.0,88.48 L1399.0,88.14 L1402.0,87.81 L1405.0,87.48 L1408.0,87.16 L1411.0,86.84 L1414.0,86.53 L1417.0,86.22 L1420.0,85.92 L1423.0,85.62 L1426.0,85.32 L1429.0,85.04 L1432.0,84.75 L1435.0,84.47 L1438.0,84.20 L1441.0,83.92 L1444.0,83.66 L1447.0,83.39 L1450.0,83.13 L1453.0,82.88 L1456.0,82.63 L1459.0,82.38 L1462.0,82.13 L1465.0,81.89 L1468.0,81.65 L1471.0,81.42 L1474.0,81.19 L1477.0,80.96 L1480.0,80.74 L1483.0,80.52 L1486.0,80.30 L1489.0,80.08 L1492.0,79.87 L1495.0,79.66 L1498.0,79.46 L1501.0,79.26 L1504.0,79.05 L1507.0,78.86 L1510.0,78.66 L1513.0,78.47 L1516.0,78.28 L1519.0,78.09 L1522.0,77.91 L1525.0,77.73 L1528.0,77.55 L1531.0,77.37 L1534.0,77.19 L1537.0,77.02 L1540.0,76.85 L1543.0,76.68 L1546.0,76.52 L1549.0,76.35 L1552.0,76.19 L1555.0,76.03 L1558.0,75.87 L1561.0,75.72 L1564.0,75.56 L1567.0,75.41 L1570.0,75.26 L1573.0,75.11 L1576.0,74.97 L1579.0,74.82 L1582.0,74.68 L1585.0,74.54 L1588.0,74.40 L1591.0,74.26 L1594.0,74.13 L1597.0,73.99 L1600.0,73.86 L1603.0,73.73 L1606.0,73.60 L1609.0,73.47 L1612.0,73.34 L1615.0,73.22 L1618.0,73.10 L1621.0,72.97 L1624.0,72.85 L1627.0,72.73 L1630.0,72.62 L1633.0,72.50 L1636.0,72.39 L1639.0,72.27 L1642.0,72.16 L1645.0,72.05 L1648.0,71.94 L1651.0,71.83 L1654.0,71.72 L1657.0,71.61 L1660.0,71.51 L1663.0,71.41 L1666.0,71.30 L1669.0,71.20 L1672.0,71.10 L1675.0,71.00 L1678.0,70.90 L1681.0,70.81 L1684.0,70.71 L1687.0,70.61 L1690.0,70.52 L1693.0,70.43 L1696.0,70.33 L1699.0,70.24 L1702.0,70.15 L1705.0,70.06 L1708.0,69.97 L1711.0,69.89 L1714.0,69.80 L1717.0,69.72 L1720.0,69.63 L1723.0,69.55 L1726.0,69.46 L1729.0,69.38 L1732.0,69.30 L1735.0,69.22 L1738.0,69.14 L1741.0,69.06 L1744.0,68.98 L1747.0,68.91 L1750.0,68.83 L1753.0,68.75 L1756.0,68.68 L1759.0,68.60 L1762.0,68.53 L1765.0,68.46 L1768.0,68.39 L1771.0,68.31 L1774.0,68.24 L1777.0,68.17 L1780.0,68.10 L1783.0,68.04 L1786.0,67.97 L1789.0,67.90 L1792.0,67.83 L1795.0,67.77 L1798.0,67.70 L1801.0,67.64 L1804.0,67.57 L1807.0,67.51 L1810.0,67.45 L1813.0,67.38 L1816.0,67.32 L1819.0,67.26 L1822.0,67.20 L1825.0,67.14 L1828.0,67.08 L1831.0,67.02"/>
<path stroke="#8E2A96" d="M172.0,75.41 L175.0,75.56 L178.0,75.71 L181.0,75.87 L184.0,76.02 L187.0,76.18 L190.0,76.34 L193.0,76.51 L196.0,76.67 L199.0,76.84 L202.0,77.01 L205.0,77.18 L208.0,77.36 L211.0,77.53 L214.0,77.71 L217.0,77.90 L220.0,78.08 L223.0,78.27 L226.0,78.45 L229.0,78.65 L232.0,78.84 L235.0,79.04 L238.0,79.24 L241.0,79.44 L244.0,79.64 L247.0,79.85 L250.0,80.06 L253.0,80.28 L256.0,80.49 L259.0,80.71 L262.0,80.94 L265.0,81.16 L268.0,81.39 L271.0,81.63 L274.0,81.86 L277.0,82.10 L280.0,82.35 L283.0,82.59 L286.0,82.84 L289.0,83.10 L292.0,83.36 L295.0,83.62 L298.0,83.89 L301.0,84.16 L304.0,84.43 L307.0,84.71 L310.0,84.99 L313.0,85.28 L316.0,85.57 L319.0,85.87 L322.0,86.17 L325.0,86.48 L328.0,86.79 L331.0,87.10 L334.0,87.42 L337.0,87.75 L340.0,88.08 L343.0,88.42 L346.0,88.76 L349.0,89.11 L352.0,89.46 L355.0,89.82 L358.0,90.19 L361.0,90.56 L364.0,90.94 L367.0,91.32 L370.0,91.71 L373.0,92.11 L376.0,92.52 L379.0,92.93 L382.0,93.35 L385.0,93.78 L388.0,94.21 L391.0,94.65 L394.0,95.10 L397.0,95.56 L400.0,96.03 L403.0,96.51 L406.0,96.99 L409.0,97.48 L412.0,97.98 L415.0,98.50 L418.0,99.02 L421.0,99.55 L424.0,100.09 L427.0,100.64 L430.0,101.20 L433.0,101.78 L436.0,102.36 L439.0,102.96 L442.0,103.57 L445.0,104.19 L448.0,104.82 L451.0,105.46 L454.0,106.12 L457.0,106.79 L460.0,107.48 L463.0,108.18 L466.0,108.89 L469.0,109.62 L472.0,110.37 L475.0,111.13 L478.0,111.91 L481.0,112.70 L484.0,113.51 L487.0,114.34 L490.0,115.19 L493.0,116.05 L496.0,116.94 L499.0,117.84 L502.0,118.77 L505.0,119.71 L508.0,120.68 L511.0,121.67 L514.0,122.69 L517.0,123.72 L520.0,124.79 L523.0,125.87 L526.0,126.99 L529.0,128.13 L532.0,129.29 L535.0,130.49 L538.0,131.72 L541.0,132.97 L544.0,134.26 L547.0,135.58 L550.0,136.93 L553.0,138.32 L556.0,139.75 L559.0,141.21 L562.0,142.71 L565.0,144.25 L568.0,145.83 L571.0,147.45 L574.0,149.12 L577.0,150.83 L580.0,152.59 L583.0,154.40 L586.0,156.26 L589.0,158.17 L592.0,160.14 L595.0,162.16 L598.0,164.25 L601.0,166.39 L604.0,168.59 L607.0,170.86 L610.0,173.20 L613.0,175.61 L616.0,178.09 L619.0,180.65 L622.0,183.29 L625.0,186.01 L628.0,188.82 L631.0,191.71 L634.0,194.70 L637.0,197.79 L640.0,200.97 L643.0,204.27 L646.0,207.67 L649.0,211.18 L652.0,214.81 L655.0,218.57 L658.0,222.46 L661.0,226.48 L664.0,230.65 L667.0,234.96 L670.0,239.42 L673.0,244.05 L676.0,248.84 L679.0,253.81 L682.0,258.96 L685.0,264.31 L688.0,269.86 L691.0,275.61 L694.0,281.59 L697.0,287.80 L700.0,294.25 L703.0,300.95 L706.0,307.92 L709.0,315.17 L712.0,322.71 L715.0,330.55 L718.0,338.71 L721.0,347.21 L724.0,356.06 L727.0,365.27 L728.0,368.43 L729.0,371.63 L730.0,374.87 L731.0,378.16 L732.0,381.50 L733.0,384.88 L734.0,388.31 L735.0,391.79 L736.0,395.31 L737.0,398.88 L738.0,402.51 L739.0,406.18 L740.0,409.91 L741.0,413.69 L742.0,417.52 L743.0,421.40 L744.0,425.34 L745.0,429.34 L746.0,433.39 L747.0,437.50 L748.0,441.67 L749.0,445.89 L750.0,450.18 L751.0,454.52 L752.0,458.93 L753.0,463.40 L754.0,467.93 L755.0,472.53 L756.0,477.19 L757.0,481.92 L758.0,486.72 L759.0,491.58 L760.0,496.51 L761.0,501.51 L762.0,506.58 L763.0,511.73 L764.0,516.94 L765.0,522.23 L766.0,527.59 L767.0,533.03 L768.0,538.54 L769.0,544.13 L770.0,549.80 L771.0,555.55 L772.0,561.37 L773.0,567.28 L774.0,573.26 L775.0,579.33 L776.0,585.48 L777.0,591.71 L778.0,598.03 L779.0,604.43 L780.0,610.92 L781.0,617.49 L782.0,624.15 L783.0,630.90 L784.0,637.74 L785.0,644.66 L786.0,651.67 L787.0,658.77 L788.0,665.96 L789.0,673.25 L790.0,680.62 L791.0,688.08 L792.0,695.63 L793.0,703.27 L794.0,711.00 L795.0,718.83 L796.0,726.74 L797.0,734.74 L798.0,742.83 L799.0,751.01 L800.0,759.28 L801.0,767.64 L802.0,776.08 L803.0,784.61 L804.0,793.22 L805.0,801.92 L806.0,810.69 L807.0,819.55 L808.0,828.49 L809.0,837.50 L810.0,846.59 L811.0,855.76 L812.0,864.99 L813.0,874.29 L814.0,883.65 L815.0,893.08 L816.0,902.56 L817.0,912.10 L818.0,921.70 L819.0,931.34 L820.0,941.02 L821.0,950.75 L822.0,960.51 L823.0,970.30 L824.0,980.12 L825.0,989.95 L826.0,999.80 L827.0,1009.66 L828.0,1019.52 L829.0,1029.38 L830.0,1039.23 L831.0,1049.06 L832.0,1058.87 L833.0,1068.65 L834.0,1078.39 L835.0,1088.08 L836.0,1097.71 L836.5,1102.51 L837.0,1107.29 L837.5,1112.05 L838.0,1116.79 L838.5,1121.51 L839.0,1126.21 L839.5,1130.89 L840.0,1135.54 L840.5,1140.17 L841.0,1144.78 L841.5,1149.35 L842.0,1153.90 L842.5,1158.42 L843.0,1162.91 L843.5,1167.37 L844.0,1171.79 L844.5,1176.18 L845.0,1180.54 L845.5,1184.86 L846.0,1189.14 L846.5,1193.38 L847.0,1197.58 L847.5,1201.74 L848.0,1205.86 L848.5,1209.93 L849.0,1213.96 L849.5,1217.94 L850.0,1221.88 L850.5,1225.76 L851.0,1229.59 L851.5,1233.38 L852.0,1237.11 L852.5,1240.78 L853.0,1244.40 L853.5,1247.97 L854.0,1251.47 L854.5,1254.92 L855.0,1258.31 L855.5,1261.63 L856.0,1264.90 L856.5,1268.09 L857.0,1271.23 L857.5,1274.30 L858.0,1277.30 L858.5,1280.23 L859.0,1283.10 L859.5,1285.89 L860.0,1288.61 L860.5,1291.26 L861.0,1293.84 L861.5,1296.34 L862.0,1298.77 L862.5,1301.12 L863.0,1303.39 L863.5,1305.58 L864.0,1307.70 L864.5,1309.73 L865.0,1311.69 L865.5,1313.56 L866.0,1315.35 L866.5,1317.06 L867.0,1318.68 L867.5,1320.22 L868.0,1321.68 L868.5,1323.05 L869.0,1324.33 L869.5,1325.52 L870.0,1326.63 L870.5,1327.65 L871.0,1328.59 L871.5,1329.43 L872.0,1330.19 L872.5,1330.85 L873.0,1331.43 L873.5,1331.92 L874.0,1332.31 L874.5,1332.62 L875.0,1332.84 L875.5,1332.96 L876.0,1333.00 L876.5,1332.95 L877.0,1332.80 L877.5,1332.57 L878.0,1332.24 L878.5,1331.83 L879.0,1331.32 L879.5,1330.73 L880.0,1330.04 L880.5,1329.27 L881.0,1328.41 L881.5,1327.46 L882.0,1326.42 L882.5,1325.29 L883.0,1324.08 L883.5,1322.78 L884.0,1321.39 L884.5,1319.92 L885.0,1318.36 L885.5,1316.72 L886.0,1315.00 L886.5,1313.19 L887.0,1311.30 L887.5,1309.33 L888.0,1307.28 L888.5,1305.15 L889.0,1302.94 L889.5,1300.65 L890.0,1298.29 L890.5,1295.85 L891.0,1293.33 L891.5,1290.74 L892.0,1288.07 L892.5,1285.34 L893.0,1282.53 L893.5,1279.65 L894.0,1276.70 L894.5,1273.69 L895.0,1270.61 L895.5,1267.46 L896.0,1264.25 L896.5,1260.97 L897.0,1257.63 L897.5,1254.23 L898.0,1250.78 L898.5,1247.26 L899.0,1243.68 L899.5,1240.05 L900.0,1236.36 L900.5,1232.62 L901.0,1228.83 L901.5,1224.99 L902.0,1221.09 L902.5,1217.15 L903.0,1213.16 L903.5,1209.12 L904.0,1205.04 L904.5,1200.91 L905.0,1196.75 L905.5,1192.54 L906.0,1188.29 L906.5,1184.00 L907.0,1179.67 L907.5,1175.31 L908.0,1170.91 L908.5,1166.48 L909.0,1162.02 L909.5,1157.52 L910.0,1152.99 L910.5,1148.44 L911.0,1143.86 L911.5,1139.25 L912.0,1134.61 L912.5,1129.95 L913.0,1125.27 L913.5,1120.57 L914.0,1115.84 L914.5,1111.10 L915.0,1106.33 L915.5,1101.55 L916.0,1096.75 L917.0,1087.11 L918.0,1077.41 L919.0,1067.67 L920.0,1057.89 L921.0,1048.08 L922.0,1038.25 L923.0,1028.40 L924.0,1018.54 L925.0,1008.68 L926.0,998.82 L927.0,988.97 L928.0,979.13 L929.0,969.32 L930.0,959.53 L931.0,949.77 L932.0,940.05 L933.0,930.37 L934.0,920.74 L935.0,911.15 L936.0,901.61 L937.0,892.13 L938.0,882.71 L939.0,873.35 L940.0,864.06 L941.0,854.84 L942.0,845.68 L943.0,836.60 L944.0,827.59 L945.0,818.66 L946.0,809.81 L947.0,801.04 L948.0,792.36 L949.0,783.75 L950.0,775.23 L951.0,766.80 L952.0,758.45 L953.0,750.19 L954.0,742.02 L955.0,733.94 L956.0,725.94 L957.0,718.04 L958.0,710.23 L959.0,702.50 L960.0,694.87 L961.0,687.33 L962.0,679.88 L963.0,672.51 L964.0,665.24 L965.0,658.06 L966.0,650.97 L967.0,643.96 L968.0,637.05 L969.0,630.22 L970.0,623.48 L971.0,616.83 L972.0,610.27 L973.0,603.79 L974.0,597.39 L975.0,591.09 L976.0,584.86 L977.0,578.72 L978.0,572.66 L979.0,566.68 L980.0,560.78 L981.0,554.97 L982.0,549.23 L983.0,543.57 L984.0,537.99 L985.0,532.48 L986.0,527.05 L987.0,521.70 L988.0,516.42 L989.0,511.21 L990.0,506.07 L991.0,501.01 L992.0,496.02 L993.0,491.09 L994.0,486.24 L995.0,481.45 L996.0,476.73 L997.0,472.07 L998.0,467.48 L999.0,462.95 L1000.0,458.49 L1001.0,454.09 L1002.0,449.75 L1003.0,445.47 L1004.0,441.25 L1005.0,437.09 L1006.0,432.98 L1007.0,428.94 L1008.0,424.95 L1009.0,421.01 L1010.0,417.13 L1011.0,413.31 L1012.0,409.53 L1013.0,405.81 L1014.0,402.14 L1015.0,398.52 L1016.0,394.96 L1017.0,391.44 L1018.0,387.96 L1019.0,384.54 L1020.0,381.16 L1021.0,377.83 L1022.0,374.55 L1023.0,371.31 L1024.0,368.11 L1025.0,364.96 L1026.0,361.85 L1029.0,352.77 L1032.0,344.05 L1035.0,335.68 L1038.0,327.64 L1041.0,319.91 L1044.0,312.48 L1047.0,305.34 L1050.0,298.47 L1053.0,291.86 L1056.0,285.50 L1059.0,279.37 L1062.0,273.48 L1065.0,267.80 L1068.0,262.33 L1071.0,257.05 L1074.0,251.97 L1077.0,247.06 L1080.0,242.33 L1083.0,237.77 L1086.0,233.36 L1089.0,229.10 L1092.0,224.99 L1095.0,221.02 L1098.0,217.18 L1101.0,213.47 L1104.0,209.88 L1107.0,206.41 L1110.0,203.05 L1113.0,199.79 L1116.0,196.65 L1119.0,193.60 L1122.0,190.64 L1125.0,187.78 L1128.0,185.00 L1131.0,182.31 L1134.0,179.71 L1137.0,177.17 L1140.0,174.72 L1143.0,172.34 L1146.0,170.02 L1149.0,167.78 L1152.0,165.59 L1155.0,163.48 L1158.0,161.42 L1161.0,159.41 L1164.0,157.47 L1167.0,155.57 L1170.0,153.73 L1173.0,151.94 L1176.0,150.20 L1179.0,148.50 L1182.0,146.85 L1185.0,145.25 L1188.0,143.68 L1191.0,142.16 L1194.0,140.67 L1197.0,139.22 L1200.0,137.81 L1203.0,136.43 L1206.0,135.09 L1209.0,133.78 L1212.0,132.51 L1215.0,131.26 L1218.0,130.05 L1221.0,128.86 L1224.0,127.71 L1227.0,126.58 L1230.0,125.47 L1233.0,124.39 L1236.0,123.34 L1239.0,122.31 L1242.0,121.31 L1245.0,120.33 L1248.0,119.36 L1251.0,118.43 L1254.0,117.51 L1257.0,116.61 L1260.0,115.73 L1263.0,114.87 L1266.0,114.03 L1269.0,113.21 L1272.0,112.41 L1275.0,111.62 L1278.0,110.85 L1281.0,110.09 L1284.0,109.35 L1287.0,108.63 L1290.0,107.92 L1293.0,107.23 L1296.0,106.55 L1299.0,105.88 L1302.0,105.23 L1305.0,104.59 L1308.0,103.96 L1311.0,103.34 L1314.0,102.74 L1317.0,102.15 L1320.0,101.57 L1323.0,101.00 L1326.0,100.44 L1329.0,99.89 L1332.0,99.35 L1335.0,98.83 L1338.0,98.31 L1341.0,97.80 L1344.0,97.30 L1347.0,96.81 L1350.0,96.33 L1353.0,95.86 L1356.0,95.39 L1359.0,94.94 L1362.0,94.49 L1365.0,94.05 L1368.0,93.62 L1371.0,93.20 L1374.0,92.78 L1377.0,92.37 L1380.0,91.97 L1383.0,91.57 L1386.0,91.18 L1389.0,90.80 L1392.0,90.42 L1395.0,90.05 L1398.0,89.69 L1401.0,89.33 L1404.0,88.98 L1407.0,88.63 L1410.0,88.29 L1413.0,87.96 L1416.0,87.63 L1419.0,87.31 L1422.0,86.99 L1425.0,86.67 L1428.0,86.36 L1431.0,86.06 L1434.0,85.76 L1437.0,85.46 L1440.0,85.17 L1443.0,84.89 L1446.0,84.61 L1449.0,84.33 L1452.0,84.06 L1455.0,83.79 L1458.0,83.52 L1461.0,83.26 L1464.0,83.01 L1467.0,82.75 L1470.0,82.50 L1473.0,82.26 L1476.0,82.02 L1479.0,81.78 L1482.0,81.54 L1485.0,81.31 L1488.0,81.08 L1491.0,80.86 L1494.0,80.63 L1497.0,80.41 L1500.0,80.20 L1503.0,79.99 L1506.0,79.78 L1509.0,79.57 L1512.0,79.36 L1515.0,79.16 L1518.0,78.96 L1521.0,78.77 L1524.0,78.58 L1527.0,78.39 L1530.0,78.20 L1533.0,78.01 L1536.0,77.83 L1539.0,77.65 L1542.0,77.47 L1545.0,77.29 L1548.0,77.12 L1551.0,76.95 L1554.0,76.78 L1557.0,76.61 L1560.0,76.45 L1563.0,76.29 L1566.0,76.12 L1569.0,75.97 L1572.0,75.81 L1575.0,75.66 L1578.0,75.50 L1581.0,75.35 L1584.0,75.20 L1587.0,75.06 L1590.0,74.91 L1593.0,74.77 L1596.0,74.63 L1599.0,74.49 L1602.0,74.35 L1605.0,74.21 L1608.0,74.08 L1611.0,73.94 L1614.0,73.81 L1617.0,73.68 L1620.0,73.55 L1623.0,73.43 L1626.0,73.30 L1629.0,73.18 L1632.0,73.05 L1635.0,72.93 L1638.0,72.81 L1641.0,72.69 L1644.0,72.58 L1647.0,72.46 L1650.0,72.35 L1653.0,72.23 L1656.0,72.12 L1659.0,72.01 L1662.0,71.90 L1665.0,71.79 L1668.0,71.69 L1671.0,71.58 L1674.0,71.48 L1677.0,71.37 L1680.0,71.27 L1683.0,71.17 L1686.0,71.07 L1689.0,70.97 L1692.0,70.87 L1695.0,70.78 L1698.0,70.68 L1701.0,70.59 L1704.0,70.49 L1707.0,70.40 L1710.0,70.31 L1713.0,70.22 L1716.0,70.13 L1719.0,70.04 L1722.0,69.95 L1725.0,69.86 L1728.0,69.78 L1731.0,69.69 L1734.0,69.61 L1737.0,69.52 L1740.0,69.44 L1743.0,69.36 L1746.0,69.28 L1749.0,69.20 L1752.0,69.12 L1755.0,69.04 L1758.0,68.96 L1761.0,68.89 L1764.0,68.81 L1767.0,68.74 L1770.0,68.66 L1773.0,68.59 L1776.0,68.51 L1779.0,68.44 L1782.0,68.37 L1785.0,68.30 L1788.0,68.23 L1791.0,68.16 L1794.0,68.09 L1797.0,68.02 L1800.0,67.95 L1803.0,67.89 L1806.0,67.82 L1809.0,67.75 L1812.0,67.69 L1815.0,67.63 L1818.0,67.56 L1821.0,67.50 L1824.0,67.44 L1827.0,67.37 L1830.0,67.31"/>
<path stroke="#58AE18" d="M172.0,73.81 L175.0,73.94 L178.0,74.07 L181.0,74.21 L184.0,74.35 L187.0,74.49 L190.0,74.63 L193.0,74.77 L196.0,74.91 L199.0,75.06 L202.0,75.20 L205.0,75.35 L208.0,75.51 L211.0,75.66 L214.0,75.81 L217.0,75.97 L220.0,76.13 L223.0,76.29 L226.0,76.45 L229.0,76.62 L232.0,76.79 L235.0,76.96 L238.0,77.13 L241.0,77.30 L244.0,77.48 L247.0,77.66 L250.0,77.84 L253.0,78.02 L256.0,78.21 L259.0,78.40 L262.0,78.59 L265.0,78.78 L268.0,78.98 L271.0,79.18 L274.0,79.38 L277.0,79.58 L280.0,79.79 L283.0,80.00 L286.0,80.22 L289.0,80.43 L292.0,80.65 L295.0,80.88 L298.0,81.10 L301.0,81.33 L304.0,81.56 L307.0,81.80 L310.0,82.04 L313.0,82.28 L316.0,82.53 L319.0,82.78 L322.0,83.04 L325.0,83.29 L328.0,83.56 L331.0,83.82 L334.0,84.09 L337.0,84.37 L340.0,84.64 L343.0,84.93 L346.0,85.21 L349.0,85.51 L352.0,85.80 L355.0,86.10 L358.0,86.41 L361.0,86.72 L364.0,87.03 L367.0,87.35 L370.0,87.68 L373.0,88.01 L376.0,88.35 L379.0,88.69 L382.0,89.04 L385.0,89.39 L388.0,89.75 L391.0,90.12 L394.0,90.49 L397.0,90.87 L400.0,91.25 L403.0,91.64 L406.0,92.04 L409.0,92.45 L412.0,92.86 L415.0,93.28 L418.0,93.70 L421.0,94.14 L424.0,94.58 L427.0,95.03 L430.0,95.49 L433.0,95.96 L436.0,96.43 L439.0,96.91 L442.0,97.41 L445.0,97.91 L448.0,98.42 L451.0,98.94 L454.0,99.47 L457.0,100.02 L460.0,100.57 L463.0,101.13 L466.0,101.70 L469.0,102.29 L472.0,102.88 L475.0,103.49 L478.0,104.11 L481.0,104.74 L484.0,105.39 L487.0,106.05 L490.0,106.72 L493.0,107.41 L496.0,108.11 L499.0,108.82 L502.0,109.55 L505.0,110.30 L508.0,111.06 L511.0,111.83 L514.0,112.63 L517.0,113.44 L520.0,114.27 L523.0,115.12 L526.0,115.98 L529.0,116.87 L532.0,117.77 L535.0,118.70 L538.0,119.65 L541.0,120.62 L544.0,121.61 L547.0,122.62 L550.0,123.66 L553.0,124.72 L556.0,125.81 L559.0,126.93 L562.0,128.07 L565.0,129.24 L568.0,130.44 L571.0,131.66 L574.0,132.92 L577.0,134.21 L580.0,135.53 L583.0,136.89 L586.0,138.28 L589.0,139.71 L592.0,141.17 L595.0,142.67 L598.0,144.22 L601.0,145.80 L604.0,147.43 L607.0,149.10 L610.0,150.81 L613.0,152.58 L616.0,154.39 L619.0,156.25 L622.0,158.17 L625.0,160.14 L628.0,162.17 L631.0,164.26 L634.0,166.40 L637.0,168.61 L640.0,170.89 L643.0,173.24 L646.0,175.65 L649.0,178.14 L652.0,180.71 L655.0,183.35 L658.0,186.08 L661.0,188.90 L664.0,191.80 L667.0,194.80 L670.0,197.90 L673.0,201.09 L676.0,204.40 L679.0,207.81 L682.0,211.34 L685.0,214.99 L688.0,218.76 L691.0,222.66 L694.0,226.70 L697.0,230.88 L700.0,235.21 L703.0,239.69 L706.0,244.34 L709.0,249.15 L712.0,254.14 L715.0,259.32 L718.0,264.69 L721.0,270.26 L724.0,276.05 L727.0,282.06 L730.0,288.30 L733.0,294.78 L736.0,301.52 L739.0,308.52 L742.0,315.81 L745.0,323.38 L748.0,331.27 L751.0,339.48 L754.0,348.02 L757.0,356.92 L760.0,366.19 L761.0,369.36 L762.0,372.58 L763.0,375.85 L764.0,379.16 L765.0,382.51 L766.0,385.91 L767.0,389.36 L768.0,392.86 L769.0,396.40 L770.0,400.00 L771.0,403.64 L772.0,407.34 L773.0,411.09 L774.0,414.89 L775.0,418.74 L776.0,422.65 L777.0,426.61 L778.0,430.63 L779.0,434.71 L780.0,438.84 L781.0,443.04 L782.0,447.29 L783.0,451.60 L784.0,455.97 L785.0,460.41 L786.0,464.90 L787.0,469.46 L788.0,474.09 L789.0,478.78 L790.0,483.54 L791.0,488.36 L792.0,493.25 L793.0,498.22 L794.0,503.25 L795.0,508.35 L796.0,513.52 L797.0,518.77 L798.0,524.09 L799.0,529.48 L800.0,534.95 L801.0,540.50 L802.0,546.12 L803.0,551.82 L804.0,557.60 L805.0,563.46 L806.0,569.39 L807.0,575.41 L808.0,581.52 L809.0,587.70 L810.0,593.97 L811.0,600.32 L812.0,606.76 L813.0,613.28 L814.0,619.89 L815.0,626.58 L816.0,633.37 L817.0,640.24 L818.0,647.20 L819.0,654.24 L820.0,661.38 L821.0,668.60 L822.0,675.92 L823.0,683.32 L824.0,690.82 L825.0,698.40 L826.0,706.08 L827.0,713.84 L828.0,721.69 L829.0,729.64 L830.0,737.67 L831.0,745.79 L832.0,754.00 L833.0,762.29 L834.0,770.68 L835.0,779.14 L836.0,787.69 L837.0,796.33 L838.0,805.04 L839.0,813.84 L840.0,822.72 L841.0,831.67 L842.0,840.70 L843.0,849.80 L844.0,858.97 L845.0,868.20 L846.0,877.51 L847.0,886.87 L848.0,896.30 L849.0,905.78 L850.0,915.31 L851.0,924.90 L852.0,934.52 L853.0,944.19 L854.0,953.89 L855.0,963.63 L856.0,973.39 L857.0,983.17 L858.0,992.97 L859.0,1002.77 L860.0,1012.58 L861.0,1022.39 L862.0,1032.19 L863.0,1041.98 L864.0,1051.74 L865.0,1061.47 L866.0,1071.17 L867.0,1080.82 L868.0,1090.42 L869.0,1099.96 L869.5,1104.70 L870.0,1109.42 L870.5,1114.13 L871.0,1118.81 L871.5,1123.47 L872.0,1128.11 L872.5,1132.73 L873.0,1137.32 L873.5,1141.89 L874.0,1146.42 L874.5,1150.93 L875.0,1155.41 L875.5,1159.86 L876.0,1164.27 L876.5,1168.65 L877.0,1173.00 L877.5,1177.31 L878.0,1181.58 L878.5,1185.82 L879.0,1190.02 L879.5,1194.17 L880.0,1198.28 L880.5,1202.35 L881.0,1206.38 L881.5,1210.36 L882.0,1214.29 L882.5,1218.18 L883.0,1222.01 L883.5,1225.79 L884.0,1229.52 L884.5,1233.20 L885.0,1236.83 L885.5,1240.39 L886.0,1243.91 L886.5,1247.36 L887.0,1250.75 L887.5,1254.09 L888.0,1257.36 L888.5,1260.57 L889.0,1263.71 L889.5,1266.79 L890.0,1269.80 L890.5,1272.75 L891.0,1275.62 L891.5,1278.43 L892.0,1281.17 L892.5,1283.83 L893.0,1286.42 L893.5,1288.94 L894.0,1291.39 L894.5,1293.76 L895.0,1296.05 L895.5,1298.26 L896.0,1300.40 L896.5,1302.45 L897.0,1304.43 L897.5,1306.33 L898.0,1308.14 L898.5,1309.87 L899.0,1311.52 L899.5,1313.09 L900.0,1314.57 L900.5,1315.96 L901.0,1317.27 L901.5,1318.50 L902.0,1319.63 L902.5,1320.69 L903.0,1321.65 L903.5,1322.52 L904.0,1323.31 L904.5,1324.01 L905.0,1324.62 L905.5,1325.14 L906.0,1325.57 L906.5,1325.91 L907.0,1326.16 L907.5,1326.32 L908.0,1326.40 L908.5,1326.38 L909.0,1326.27 L909.5,1326.07 L910.0,1325.78 L910.5,1325.41 L911.0,1324.94 L911.5,1324.39 L912.0,1323.74 L912.5,1323.01 L913.0,1322.18 L913.5,1321.27 L914.0,1320.28 L914.5,1319.19 L915.0,1318.02 L915.5,1316.76 L916.0,1315.41 L916.5,1313.98 L917.0,1312.47 L917.5,1310.87 L918.0,1309.19 L918.5,1307.42 L919.0,1305.58 L919.5,1303.65 L920.0,1301.64 L920.5,1299.55 L921.0,1297.38 L921.5,1295.14 L922.0,1292.82 L922.5,1290.42 L923.0,1287.94 L923.5,1285.40 L924.0,1282.78 L924.5,1280.08 L925.0,1277.32 L925.5,1274.48 L926.0,1271.58 L926.5,1268.60 L927.0,1265.56 L927.5,1262.46 L928.0,1259.29 L928.5,1256.06 L929.0,1252.76 L929.5,1249.40 L930.0,1245.98 L930.5,1242.51 L931.0,1238.97 L931.5,1235.38 L932.0,1231.74 L932.5,1228.04 L933.0,1224.29 L933.5,1220.48 L934.0,1216.63 L934.5,1212.72 L935.0,1208.77 L935.5,1204.77 L936.0,1200.73 L936.5,1196.64 L937.0,1192.51 L937.5,1188.34 L938.0,1184.13 L938.5,1179.88 L939.0,1175.59 L939.5,1171.26 L940.0,1166.90 L940.5,1162.51 L941.0,1158.08 L941.5,1153.62 L942.0,1149.13 L942.5,1144.61 L943.0,1140.06 L943.5,1135.49 L944.0,1130.89 L944.5,1126.26 L945.0,1121.61 L945.5,1116.94 L946.0,1112.25 L946.5,1107.54 L947.0,1102.80 L947.5,1098.05 L948.0,1093.29 L948.5,1088.50 L949.5,1078.89 L950.5,1069.23 L951.5,1059.53 L952.5,1049.79 L953.5,1040.02 L954.5,1030.23 L955.5,1020.43 L956.5,1010.62 L957.5,1000.81 L958.5,991.00 L959.5,981.21 L960.5,971.43 L961.5,961.68 L962.5,951.95 L963.5,942.25 L964.5,932.59 L965.5,922.98 L966.5,913.40 L967.5,903.88 L968.5,894.41 L969.5,885.00 L970.5,875.64 L971.5,866.35 L972.5,857.13 L973.5,847.97 L974.5,838.88 L975.5,829.87 L976.5,820.94 L977.5,812.08 L978.5,803.29 L979.5,794.59 L980.5,785.98 L981.5,777.44 L982.5,768.99 L983.5,760.63 L984.5,752.35 L985.5,744.16 L986.5,736.06 L987.5,728.04 L988.5,720.12 L989.5,712.28 L990.5,704.53 L991.5,696.88 L992.5,689.31 L993.5,681.84 L994.5,674.45 L995.5,667.15 L996.5,659.94 L997.5,652.83 L998.5,645.80 L999.5,638.86 L1000.5,632.00 L1001.5,625.24 L1002.5,618.56 L1003.5,611.97 L1004.5,605.46 L1005.5,599.04 L1006.5,592.71 L1007.5,586.46 L1008.5,580.29 L1009.5,574.20 L1010.5,568.20 L1011.5,562.28 L1012.5,556.44 L1013.5,550.67 L1014.5,544.99 L1015.5,539.38 L1016.5,533.85 L1017.5,528.40 L1018.5,523.02 L1019.5,517.71 L1020.5,512.48 L1021.5,507.32 L1022.5,502.23 L1023.5,497.22 L1024.5,492.27 L1025.5,487.39 L1026.5,482.58 L1027.5,477.84 L1028.5,473.16 L1029.5,468.55 L1030.5,464.00 L1031.5,459.51 L1032.5,455.09 L1033.5,450.73 L1034.5,446.43 L1035.5,442.19 L1036.5,438.01 L1037.5,433.89 L1038.5,429.83 L1039.5,425.82 L1040.5,421.86 L1041.5,417.97 L1042.5,414.12 L1043.5,410.33 L1044.5,406.60 L1045.5,402.91 L1046.5,399.27 L1047.5,395.69 L1048.5,392.15 L1049.5,388.67 L1050.5,385.23 L1051.5,381.84 L1052.5,378.49 L1053.5,375.19 L1054.5,371.94 L1055.5,368.73 L1056.5,365.56 L1057.5,362.44 L1058.5,359.36 L1061.5,350.36 L1064.5,341.72 L1067.5,333.43 L1070.5,325.46 L1073.5,317.80 L1076.5,310.44 L1079.5,303.36 L1082.5,296.55 L1085.5,290.00 L1088.5,283.70 L1091.5,277.63 L1094.5,271.79 L1097.5,266.16 L1100.5,260.73 L1103.5,255.51 L1106.5,250.47 L1109.5,245.60 L1112.5,240.91 L1115.5,236.39 L1118.5,232.02 L1121.5,227.80 L1124.5,223.72 L1127.5,219.79 L1130.5,215.98 L1133.5,212.30 L1136.5,208.74 L1139.5,205.30 L1142.5,201.97 L1145.5,198.74 L1148.5,195.62 L1151.5,192.59 L1154.5,189.66 L1157.5,186.83 L1160.5,184.07 L1163.5,181.41 L1166.5,178.82 L1169.5,176.31 L1172.5,173.87 L1175.5,171.51 L1178.5,169.21 L1181.5,166.99 L1184.5,164.82 L1187.5,162.72 L1190.5,160.68 L1193.5,158.69 L1196.5,156.76 L1199.5,154.88 L1202.5,153.06 L1205.5,151.28 L1208.5,149.55 L1211.5,147.87 L1214.5,146.23 L1217.5,144.63 L1220.5,143.08 L1223.5,141.57 L1226.5,140.09 L1229.5,138.66 L1232.5,137.26 L1235.5,135.89 L1238.5,134.56 L1241.5,133.26 L1244.5,132.00 L1247.5,130.76 L1250.5,129.55 L1253.5,128.38 L1256.5,127.23 L1259.5,126.11 L1262.5,125.01 L1265.5,123.94 L1268.5,122.90 L1271.5,121.88 L1274.5,120.88 L1277.5,119.90 L1280.5,118.95 L1283.5,118.02 L1286.5,117.11 L1289.5,116.22 L1292.5,115.35 L1295.5,114.49 L1298.5,113.66 L1301.5,112.84 L1304.5,112.04 L1307.5,111.26 L1310.5,110.50 L1313.5,109.75 L1316.5,109.01 L1319.5,108.29 L1322.5,107.59 L1325.5,106.90 L1328.5,106.23 L1331.5,105.56 L1334.5,104.91 L1337.5,104.28 L1340.5,103.66 L1343.5,103.04 L1346.5,102.45 L1349.5,101.86 L1352.5,101.28 L1355.5,100.72 L1358.5,100.16 L1361.5,99.62 L1364.5,99.08 L1367.5,98.56 L1370.5,98.05 L1373.5,97.54 L1376.5,97.05 L1379.5,96.56 L1382.5,96.08 L1385.5,95.61 L1388.5,95.15 L1391.5,94.70 L1394.5,94.26 L1397.5,93.82 L1400.5,93.39 L1403.5,92.97 L1406.5,92.56 L1409.5,92.15 L1412.5,91.75 L1415.5,91.36 L1418.5,90.97 L1421.5,90.59 L1424.5,90.22 L1427.5,89.85 L1430.5,89.49 L1433.5,89.13 L1436.5,88.78 L1439.5,88.44 L1442.5,88.10 L1445.5,87.77 L1448.5,87.44 L1451.5,87.12 L1454.5,86.80 L1457.5,86.49 L1460.5,86.18 L1463.5,85.88 L1466.5,85.58 L1469.5,85.29 L1472.5,85.00 L1475.5,84.72 L1478.5,84.44 L1481.5,84.16 L1484.5,83.89 L1487.5,83.63 L1490.5,83.36 L1493.5,83.10 L1496.5,82.85 L1499.5,82.60 L1502.5,82.35 L1505.5,82.11 L1508.5,81.86 L1511.5,81.63 L1514.5,81.39 L1517.5,81.16 L1520.5,80.94 L1523.5,80.71 L1526.5,80.49 L1529.5,80.27 L1532.5,80.06 L1535.5,79.85 L1538.5,79.64 L1541.5,79.43 L1544.5,79.23 L1547.5,79.03 L1550.5,78.83 L1553.5,78.64 L1556.5,78.45 L1559.5,78.26 L1562.5,78.07 L1565.5,77.89 L1568.5,77.71 L1571.5,77.53 L1574.5,77.35 L1577.5,77.17 L1580.5,77.00 L1583.5,76.83 L1586.5,76.66 L1589.5,76.50 L1592.5,76.33 L1595.5,76.17 L1598.5,76.01 L1601.5,75.85 L1604.5,75.70 L1607.5,75.55 L1610.5,75.39 L1613.5,75.24 L1616.5,75.10 L1619.5,74.95 L1622.5,74.81 L1625.5,74.66 L1628.5,74.52 L1631.5,74.38 L1634.5,74.25 L1637.5,74.11 L1640.5,73.98 L1643.5,73.84 L1646.5,73.71 L1649.5,73.58 L1652.5,73.46 L1655.5,73.33 L1658.5,73.21 L1661.5,73.08 L1664.5,72.96 L1667.5,72.84 L1670.5,72.72 L1673.5,72.60 L1676.5,72.49 L1679.5,72.37 L1682.5,72.26 L1685.5,72.15 L1688.5,72.03 L1691.5,71.92 L1694.5,71.82 L1697.5,71.71 L1700.5,71.60 L1703.5,71.50 L1706.5,71.39 L1709.5,71.29 L1712.5,71.19 L1715.5,71.09 L1718.5,70.99 L1721.5,70.89 L1724.5,70.79 L1727.5,70.70 L1730.5,70.60 L1733.5,70.51 L1736.5,70.42 L1739.5,70.32 L1742.5,70.23 L1745.5,70.14 L1748.5,70.05 L1751.5,69.96 L1754.5,69.88 L1757.5,69.79 L1760.5,69.71 L1763.5,69.62 L1766.5,69.54 L1769.5,69.45 L1772.5,69.37 L1775.5,69.29 L1778.5,69.21 L1781.5,69.13 L1784.5,69.05 L1787.5,68.97 L1790.5,68.90 L1793.5,68.82 L1796.5,68.74 L1799.5,68.67 L1802.5,68.60 L1805.5,68.52 L1808.5,68.45 L1811.5,68.38 L1814.5,68.31 L1817.5,68.24 L1820.5,68.17 L1823.5,68.10 L1826.5,68.03 L1829.5,67.96"/>
<path stroke="#00BEEE" d="M172.0,72.89 L175.0,73.01 L178.0,73.13 L181.0,73.26 L184.0,73.38 L187.0,73.51 L190.0,73.64 L193.0,73.77 L196.0,73.90 L199.0,74.03 L202.0,74.17 L205.0,74.30 L208.0,74.44 L211.0,74.58 L214.0,74.72 L217.0,74.87 L220.0,75.01 L223.0,75.16 L226.0,75.31 L229.0,75.46 L232.0,75.61 L235.0,75.76 L238.0,75.92 L241.0,76.08 L244.0,76.24 L247.0,76.40 L250.0,76.57 L253.0,76.73 L256.0,76.90 L259.0,77.07 L262.0,77.25 L265.0,77.42 L268.0,77.60 L271.0,77.78 L274.0,77.96 L277.0,78.15 L280.0,78.33 L283.0,78.53 L286.0,78.72 L289.0,78.91 L292.0,79.11 L295.0,79.31 L298.0,79.52 L301.0,79.72 L304.0,79.93 L307.0,80.15 L310.0,80.36 L313.0,80.58 L316.0,80.80 L319.0,81.03 L322.0,81.25 L325.0,81.49 L328.0,81.72 L331.0,81.96 L334.0,82.20 L337.0,82.45 L340.0,82.70 L343.0,82.95 L346.0,83.20 L349.0,83.47 L352.0,83.73 L355.0,84.00 L358.0,84.27 L361.0,84.55 L364.0,84.83 L367.0,85.11 L370.0,85.40 L373.0,85.70 L376.0,86.00 L379.0,86.30 L382.0,86.61 L385.0,86.92 L388.0,87.24 L391.0,87.57 L394.0,87.90 L397.0,88.23 L400.0,88.57 L403.0,88.92 L406.0,89.27 L409.0,89.62 L412.0,89.99 L415.0,90.36 L418.0,90.73 L421.0,91.11 L424.0,91.50 L427.0,91.90 L430.0,92.30 L433.0,92.71 L436.0,93.13 L439.0,93.55 L442.0,93.98 L445.0,94.42 L448.0,94.87 L451.0,95.32 L454.0,95.79 L457.0,96.26 L460.0,96.74 L463.0,97.23 L466.0,97.73 L469.0,98.23 L472.0,98.75 L475.0,99.28 L478.0,99.82 L481.0,100.36 L484.0,100.92 L487.0,101.49 L490.0,102.07 L493.0,102.66 L496.0,103.27 L499.0,103.88 L502.0,104.51 L505.0,105.15 L508.0,105.80 L511.0,106.47 L514.0,107.15 L517.0,107.84 L520.0,108.55 L523.0,109.28 L526.0,110.02 L529.0,110.77 L532.0,111.54 L535.0,112.33 L538.0,113.13 L541.0,113.96 L544.0,114.80 L547.0,115.65 L550.0,116.53 L553.0,117.43 L556.0,118.35 L559.0,119.29 L562.0,120.25 L565.0,121.23 L568.0,122.23 L571.0,123.26 L574.0,124.32 L577.0,125.39 L580.0,126.50 L583.0,127.63 L586.0,128.79 L589.0,129.97 L592.0,131.19 L595.0,132.43 L598.0,133.71 L601.0,135.02 L604.0,136.36 L607.0,137.74 L610.0,139.15 L613.0,140.60 L616.0,142.09 L619.0,143.61 L622.0,145.18 L625.0,146.79 L628.0,148.44 L631.0,150.14 L634.0,151.88 L637.0,153.67 L640.0,155.52 L643.0,157.41 L646.0,159.36 L649.0,161.36 L652.0,163.43 L655.0,165.55 L658.0,167.73 L661.0,169.98 L664.0,172.30 L667.0,174.68 L670.0,177.14 L673.0,179.68 L676.0,182.29 L679.0,184.98 L682.0,187.76 L685.0,190.63 L688.0,193.59 L691.0,196.65 L694.0,199.80 L697.0,203.06 L700.0,206.42 L703.0,209.90 L706.0,213.50 L709.0,217.22 L712.0,221.07 L715.0,225.05 L718.0,229.17 L721.0,233.44 L724.0,237.85 L727.0,242.43 L730.0,247.17 L733.0,252.09 L736.0,257.19 L739.0,262.48 L742.0,267.96 L745.0,273.66 L748.0,279.57 L751.0,285.71 L754.0,292.09 L757.0,298.72 L760.0,305.61 L763.0,312.77 L766.0,320.23 L769.0,327.98 L772.0,336.05 L775.0,344.45 L778.0,353.20 L781.0,362.31 L782.0,365.43 L783.0,368.59 L784.0,371.80 L785.0,375.05 L786.0,378.35 L787.0,381.69 L788.0,385.08 L789.0,388.51 L790.0,392.00 L791.0,395.53 L792.0,399.11 L793.0,402.74 L794.0,406.42 L795.0,410.16 L796.0,413.94 L797.0,417.78 L798.0,421.68 L799.0,425.63 L800.0,429.63 L801.0,433.69 L802.0,437.81 L803.0,441.99 L804.0,446.22 L805.0,450.52 L806.0,454.87 L807.0,459.29 L808.0,463.77 L809.0,468.31 L810.0,472.92 L811.0,477.59 L812.0,482.33 L813.0,487.14 L814.0,492.01 L815.0,496.96 L816.0,501.97 L817.0,507.05 L818.0,512.20 L819.0,517.43 L820.0,522.73 L821.0,528.10 L822.0,533.55 L823.0,539.08 L824.0,544.68 L825.0,550.36 L826.0,556.12 L827.0,561.95 L828.0,567.87 L829.0,573.87 L830.0,579.95 L831.0,586.11 L832.0,592.36 L833.0,598.68 L834.0,605.10 L835.0,611.60 L836.0,618.18 L837.0,624.86 L838.0,631.62 L839.0,638.46 L840.0,645.40 L841.0,652.42 L842.0,659.53 L843.0,666.74 L844.0,674.03 L845.0,681.41 L846.0,688.88 L847.0,696.44 L848.0,704.09 L849.0,711.83 L850.0,719.67 L851.0,727.59 L852.0,735.60 L853.0,743.69 L854.0,751.88 L855.0,760.15 L856.0,768.52 L857.0,776.96 L858.0,785.49 L859.0,794.11 L860.0,802.81 L861.0,811.58 L862.0,820.44 L863.0,829.38 L864.0,838.39 L865.0,847.47 L866.0,856.63 L867.0,865.85 L868.0,875.15 L869.0,884.50 L870.0,893.92 L871.0,903.39 L872.0,912.91 L873.0,922.49 L874.0,932.11 L875.0,941.78 L876.0,951.48 L877.0,961.21 L878.0,970.97 L879.0,980.76 L880.0,990.56 L881.0,1000.38 L882.0,1010.20 L883.0,1020.02 L884.0,1029.84 L885.0,1039.64 L886.0,1049.42 L887.0,1059.17 L888.0,1068.90 L889.0,1078.57 L890.0,1088.20 L891.0,1097.77 L891.5,1102.53 L892.0,1107.27 L892.5,1112.00 L893.0,1116.70 L893.5,1121.39 L894.0,1126.05 L894.5,1130.68 L895.0,1135.30 L895.5,1139.89 L896.0,1144.45 L896.5,1148.98 L897.0,1153.48 L897.5,1157.96 L898.0,1162.40 L898.5,1166.81 L899.0,1171.19 L899.5,1175.53 L900.0,1179.83 L900.5,1184.10 L901.0,1188.33 L901.5,1192.52 L902.0,1196.67 L902.5,1200.77 L903.0,1204.83 L903.5,1208.85 L904.0,1212.82 L904.5,1216.74 L905.0,1220.61 L905.5,1224.44 L906.0,1228.21 L906.5,1231.93 L907.0,1235.59 L907.5,1239.21 L908.0,1242.76 L908.5,1246.26 L909.0,1249.70 L909.5,1253.08 L910.0,1256.39 L910.5,1259.65 L911.0,1262.84 L911.5,1265.97 L912.0,1269.03 L912.5,1272.03 L913.0,1274.96 L913.5,1277.82 L914.0,1280.61 L914.5,1283.33 L915.0,1285.97 L915.5,1288.54 L916.0,1291.04 L916.5,1293.47 L917.0,1295.82 L917.5,1298.09 L918.0,1300.28 L918.5,1302.39 L919.0,1304.43 L919.5,1306.38 L920.0,1308.26 L920.5,1310.05 L921.0,1311.76 L921.5,1313.38 L922.0,1314.92 L922.5,1316.38 L923.0,1317.75 L923.5,1319.04 L924.0,1320.24 L924.5,1321.35 L925.0,1322.38 L925.5,1323.32 L926.0,1324.16 L926.5,1324.93 L927.0,1325.60 L927.5,1326.18 L928.0,1326.68 L928.5,1327.08 L929.0,1327.40 L929.5,1327.62 L930.0,1327.75 L930.5,1327.80 L931.0,1327.75 L931.5,1327.62 L932.0,1327.40 L932.5,1327.08 L933.0,1326.68 L933.5,1326.18 L934.0,1325.60 L934.5,1324.93 L935.0,1324.16 L935.5,1323.32 L936.0,1322.38 L936.5,1321.35 L937.0,1320.24 L937.5,1319.04 L938.0,1317.75 L938.5,1316.38 L939.0,1314.92 L939.5,1313.38 L940.0,1311.76 L940.5,1310.05 L941.0,1308.26 L941.5,1306.38 L942.0,1304.43 L942.5,1302.39 L943.0,1300.28 L943.5,1298.09 L944.0,1295.82 L944.5,1293.47 L945.0,1291.04 L945.5,1288.54 L946.0,1285.97 L946.5,1283.33 L947.0,1280.61 L947.5,1277.82 L948.0,1274.96 L948.5,1272.03 L949.0,1269.03 L949.5,1265.97 L950.0,1262.84 L950.5,1259.65 L951.0,1256.39 L951.5,1253.08 L952.0,1249.70 L952.5,1246.26 L953.0,1242.76 L953.5,1239.21 L954.0,1235.59 L954.5,1231.93 L955.0,1228.21 L955.5,1224.44 L956.0,1220.61 L956.5,1216.74 L957.0,1212.82 L957.5,1208.85 L958.0,1204.83 L958.5,1200.77 L959.0,1196.67 L959.5,1192.52 L960.0,1188.33 L960.5,1184.10 L961.0,1179.83 L961.5,1175.53 L962.0,1171.19 L962.5,1166.81 L963.0,1162.40 L963.5,1157.96 L964.0,1153.48 L964.5,1148.98 L965.0,1144.45 L965.5,1139.89 L966.0,1135.30 L966.5,1130.68 L967.0,1126.05 L967.5,1121.39 L968.0,1116.70 L968.5,1112.00 L969.0,1107.27 L969.5,1102.53 L970.0,1097.77 L970.5,1092.99 L971.5,1083.39 L972.5,1073.74 L973.5,1064.04 L974.5,1054.30 L975.5,1044.53 L976.5,1034.74 L977.5,1024.93 L978.5,1015.11 L979.5,1005.29 L980.5,995.47 L981.5,985.66 L982.5,975.86 L983.5,966.09 L984.5,956.34 L985.5,946.62 L986.5,936.94 L987.5,927.29 L988.5,917.70 L989.5,908.14 L990.5,898.64 L991.5,889.20 L992.5,879.82 L993.5,870.49 L994.5,861.23 L995.5,852.04 L996.5,842.92 L997.5,833.87 L998.5,824.90 L999.5,816.00 L1000.5,807.19 L1001.5,798.45 L1002.5,789.79 L1003.5,781.22 L1004.5,772.73 L1005.5,764.32 L1006.5,756.01 L1007.5,747.78 L1008.5,739.63 L1009.5,731.58 L1010.5,723.61 L1011.5,715.74 L1012.5,707.95 L1013.5,700.26 L1014.5,692.65 L1015.5,685.13 L1016.5,677.71 L1017.5,670.37 L1018.5,663.12 L1019.5,655.97 L1020.5,648.90 L1021.5,641.92 L1022.5,635.03 L1023.5,628.23 L1024.5,621.51 L1025.5,614.88 L1026.5,608.34 L1027.5,601.88 L1028.5,595.51 L1029.5,589.22 L1030.5,583.02 L1031.5,576.90 L1032.5,570.86 L1033.5,564.90 L1034.5,559.02 L1035.5,553.23 L1036.5,547.51 L1037.5,541.87 L1038.5,536.31 L1039.5,530.82 L1040.5,525.41 L1041.5,520.07 L1042.5,514.81 L1043.5,509.62 L1044.5,504.50 L1045.5,499.45 L1046.5,494.48 L1047.5,489.57 L1048.5,484.73 L1049.5,479.96 L1050.5,475.25 L1051.5,470.61 L1052.5,466.03 L1053.5,461.52 L1054.5,457.07 L1055.5,452.69 L1056.5,448.36 L1057.5,444.10 L1058.5,439.89 L1059.5,435.74 L1060.5,431.65 L1061.5,427.62 L1062.5,423.65 L1063.5,419.72 L1064.5,415.86 L1065.5,412.04 L1066.5,408.28 L1067.5,404.58 L1068.5,400.92 L1069.5,397.31 L1070.5,393.76 L1071.5,390.25 L1072.5,386.79 L1073.5,383.38 L1074.5,380.01 L1075.5,376.69 L1076.5,373.42 L1077.5,370.19 L1078.5,367.00 L1079.5,363.86 L1080.5,360.76 L1083.5,351.71 L1086.5,343.03 L1089.5,334.68 L1092.5,326.67 L1095.5,318.96 L1098.5,311.56 L1101.5,304.44 L1104.5,297.60 L1107.5,291.01 L1110.5,284.67 L1113.5,278.57 L1116.5,272.69 L1119.5,267.03 L1122.5,261.58 L1125.5,256.33 L1128.5,251.26 L1131.5,246.37 L1134.5,241.66 L1137.5,237.11 L1140.5,232.71 L1143.5,228.47 L1146.5,224.38 L1149.5,220.42 L1152.5,216.59 L1155.5,212.89 L1158.5,209.32 L1161.5,205.86 L1164.5,202.51 L1167.5,199.27 L1170.5,196.13 L1173.5,193.09 L1176.5,190.15 L1179.5,187.29 L1182.5,184.53 L1185.5,181.85 L1188.5,179.25 L1191.5,176.73 L1194.5,174.28 L1197.5,171.91 L1200.5,169.60 L1203.5,167.36 L1206.5,165.19 L1209.5,163.08 L1212.5,161.03 L1215.5,159.03 L1218.5,157.09 L1221.5,155.21 L1224.5,153.37 L1227.5,151.59 L1230.5,149.85 L1233.5,148.16 L1236.5,146.52 L1239.5,144.91 L1242.5,143.35 L1245.5,141.84 L1248.5,140.35 L1251.5,138.91 L1254.5,137.51 L1257.5,136.14 L1260.5,134.80 L1263.5,133.50 L1266.5,132.22 L1269.5,130.98 L1272.5,129.77 L1275.5,128.59 L1278.5,127.44 L1281.5,126.31 L1284.5,125.21 L1287.5,124.14 L1290.5,123.09 L1293.5,122.07 L1296.5,121.06 L1299.5,120.09 L1302.5,119.13 L1305.5,118.19 L1308.5,117.28 L1311.5,116.38 L1314.5,115.51 L1317.5,114.65 L1320.5,113.82 L1323.5,113.00 L1326.5,112.20 L1329.5,111.41 L1332.5,110.64 L1335.5,109.89 L1338.5,109.16 L1341.5,108.43 L1344.5,107.73 L1347.5,107.04 L1350.5,106.36 L1353.5,105.69 L1356.5,105.04 L1359.5,104.40 L1362.5,103.78 L1365.5,103.17 L1368.5,102.56 L1371.5,101.97 L1374.5,101.40 L1377.5,100.83 L1380.5,100.27 L1383.5,99.73 L1386.5,99.19 L1389.5,98.67 L1392.5,98.15 L1395.5,97.64 L1398.5,97.15 L1401.5,96.66 L1404.5,96.18 L1407.5,95.71 L1410.5,95.25 L1413.5,94.79 L1416.5,94.35 L1419.5,93.91 L1422.5,93.48 L1425.5,93.06 L1428.5,92.64 L1431.5,92.23 L1434.5,91.83 L1437.5,91.44 L1440.5,91.05 L1443.5,90.67 L1446.5,90.29 L1449.5,89.93 L1452.5,89.56 L1455.5,89.21 L1458.5,88.86 L1461.5,88.51 L1464.5,88.17 L1467.5,87.84 L1470.5,87.51 L1473.5,87.19 L1476.5,86.87 L1479.5,86.56 L1482.5,86.25 L1485.5,85.95 L1488.5,85.65 L1491.5,85.36 L1494.5,85.07 L1497.5,84.78 L1500.5,84.50 L1503.5,84.23 L1506.5,83.95 L1509.5,83.69 L1512.5,83.42 L1515.5,83.16 L1518.5,82.91 L1521.5,82.65 L1524.5,82.41 L1527.5,82.16 L1530.5,81.92 L1533.5,81.68 L1536.5,81.45 L1539.5,81.22 L1542.5,80.99 L1545.5,80.76 L1548.5,80.54 L1551.5,80.32 L1554.5,80.11 L1557.5,79.90 L1560.5,79.69 L1563.5,79.48 L1566.5,79.28 L1569.5,79.08 L1572.5,78.88 L1575.5,78.69 L1578.5,78.49 L1581.5,78.30 L1584.5,78.12 L1587.5,77.93 L1590.5,77.75 L1593.5,77.57 L1596.5,77.39 L1599.5,77.22 L1602.5,77.04 L1605.5,76.87 L1608.5,76.70 L1611.5,76.54 L1614.5,76.37 L1617.5,76.21 L1620.5,76.05 L1623.5,75.89 L1626.5,75.74 L1629.5,75.58 L1632.5,75.43 L1635.5,75.28 L1638.5,75.13 L1641.5,74.99 L1644.5,74.84 L1647.5,74.70 L1650.5,74.56 L1653.5,74.42 L1656.5,74.28 L1659.5,74.14 L1662.5,74.01 L1665.5,73.88 L1668.5,73.75 L1671.5,73.62 L1674.5,73.49 L1677.5,73.36 L1680.5,73.24 L1683.5,73.11 L1686.5,72.99 L1689.5,72.87 L1692.5,72.75 L1695.5,72.63 L1698.5,72.52 L1701.5,72.40 L1704.5,72.29 L1707.5,72.17 L1710.5,72.06 L1713.5,71.95 L1716.5,71.84 L1719.5,71.74 L1722.5,71.63 L1725.5,71.53 L1728.5,71.42 L1731.5,71.32 L1734.5,71.22 L1737.5,71.12 L1740.5,71.02 L1743.5,70.92 L1746.5,70.82 L1749.5,70.72 L1752.5,70.63 L1755.5,70.53 L1758.5,70.44 L1761.5,70.35 L1764.5,70.26 L1767.5,70.17 L1770.5,70.08 L1773.5,69.99 L1776.5,69.90 L1779.5,69.81 L1782.5,69.73 L1785.5,69.64 L1788.5,69.56 L1791.5,69.48 L1794.5,69.39 L1797.5,69.31 L1800.5,69.23 L1803.5,69.15 L1806.5,69.07 L1809.5,69.00 L1812.5,68.92 L1815.5,68.84 L1818.5,68.77 L1821.5,68.69 L1824.5,68.62 L1827.5,68.54 L1830.5,68.47"/>
<path stroke="#BE0A2E" d="M172.0,71.88 L175.0,71.99 L178.0,72.10 L181.0,72.22 L184.0,72.33 L187.0,72.44 L190.0,72.56 L193.0,72.68 L196.0,72.79 L199.0,72.91 L202.0,73.04 L205.0,73.16 L208.0,73.28 L211.0,73.41 L214.0,73.54 L217.0,73.66 L220.0,73.79 L223.0,73.93 L226.0,74.06 L229.0,74.19 L232.0,74.33 L235.0,74.47 L238.0,74.61 L241.0,74.75 L244.0,74.90 L247.0,75.04 L250.0,75.19 L253.0,75.34 L256.0,75.49 L259.0,75.64 L262.0,75.80 L265.0,75.95 L268.0,76.11 L271.0,76.27 L274.0,76.44 L277.0,76.60 L280.0,76.77 L283.0,76.94 L286.0,77.11 L289.0,77.28 L292.0,77.46 L295.0,77.64 L298.0,77.82 L301.0,78.00 L304.0,78.19 L307.0,78.38 L310.0,78.57 L313.0,78.76 L316.0,78.96 L319.0,79.16 L322.0,79.36 L325.0,79.56 L328.0,79.77 L331.0,79.98 L334.0,80.19 L337.0,80.41 L340.0,80.63 L343.0,80.85 L346.0,81.08 L349.0,81.31 L352.0,81.54 L355.0,81.78 L358.0,82.01 L361.0,82.26 L364.0,82.50 L367.0,82.75 L370.0,83.01 L373.0,83.27 L376.0,83.53 L379.0,83.79 L382.0,84.06 L385.0,84.34 L388.0,84.61 L391.0,84.90 L394.0,85.18 L397.0,85.47 L400.0,85.77 L403.0,86.07 L406.0,86.38 L409.0,86.69 L412.0,87.00 L415.0,87.32 L418.0,87.65 L421.0,87.98 L424.0,88.31 L427.0,88.65 L430.0,89.00 L433.0,89.35 L436.0,89.71 L439.0,90.08 L442.0,90.45 L445.0,90.83 L448.0,91.21 L451.0,91.60 L454.0,92.00 L457.0,92.40 L460.0,92.81 L463.0,93.23 L466.0,93.66 L469.0,94.09 L472.0,94.53 L475.0,94.98 L478.0,95.44 L481.0,95.91 L484.0,96.38 L487.0,96.86 L490.0,97.36 L493.0,97.86 L496.0,98.37 L499.0,98.89 L502.0,99.42 L505.0,99.96 L508.0,100.51 L511.0,101.07 L514.0,101.64 L517.0,102.23 L520.0,102.82 L523.0,103.43 L526.0,104.05 L529.0,104.68 L532.0,105.32 L535.0,105.98 L538.0,106.65 L541.0,107.34 L544.0,108.03 L547.0,108.75 L550.0,109.48 L553.0,110.22 L556.0,110.98 L559.0,111.76 L562.0,112.55 L565.0,113.36 L568.0,114.19 L571.0,115.03 L574.0,115.90 L577.0,116.78 L580.0,117.68 L583.0,118.61 L586.0,119.55 L589.0,120.52 L592.0,121.51 L595.0,122.52 L598.0,123.56 L601.0,124.62 L604.0,125.70 L607.0,126.82 L610.0,127.96 L613.0,129.12 L616.0,130.32 L619.0,131.54 L622.0,132.80 L625.0,134.08 L628.0,135.40 L631.0,136.76 L634.0,138.14 L637.0,139.57 L640.0,141.03 L643.0,142.53 L646.0,144.07 L649.0,145.65 L652.0,147.27 L655.0,148.93 L658.0,150.65 L661.0,152.41 L664.0,154.21 L667.0,156.07 L670.0,157.98 L673.0,159.95 L676.0,161.97 L679.0,164.05 L682.0,166.20 L685.0,168.40 L688.0,170.67 L691.0,173.01 L694.0,175.42 L697.0,177.90 L700.0,180.46 L703.0,183.10 L706.0,185.82 L709.0,188.63 L712.0,191.53 L715.0,194.52 L718.0,197.60 L721.0,200.79 L724.0,204.08 L727.0,207.49 L730.0,211.00 L733.0,214.64 L736.0,218.40 L739.0,222.29 L742.0,226.32 L745.0,230.48 L748.0,234.80 L751.0,239.27 L754.0,243.90 L757.0,248.70 L760.0,253.67 L763.0,258.83 L766.0,264.19 L769.0,269.74 L772.0,275.51 L775.0,281.49 L778.0,287.71 L781.0,294.17 L784.0,300.89 L787.0,307.87 L790.0,315.13 L793.0,322.68 L796.0,330.54 L799.0,338.71 L802.0,347.23 L805.0,356.09 L808.0,365.33 L809.0,368.49 L810.0,371.70 L811.0,374.95 L812.0,378.25 L813.0,381.59 L814.0,384.98 L815.0,388.42 L816.0,391.90 L817.0,395.43 L818.0,399.01 L819.0,402.64 L820.0,406.33 L821.0,410.06 L822.0,413.85 L823.0,417.69 L824.0,421.58 L825.0,425.53 L826.0,429.54 L827.0,433.60 L828.0,437.72 L829.0,441.89 L830.0,446.13 L831.0,450.42 L832.0,454.78 L833.0,459.20 L834.0,463.68 L835.0,468.22 L836.0,472.83 L837.0,477.50 L838.0,482.24 L839.0,487.05 L840.0,491.92 L841.0,496.86 L842.0,501.88 L843.0,506.96 L844.0,512.11 L845.0,517.34 L846.0,522.64 L847.0,528.01 L848.0,533.46 L849.0,538.99 L850.0,544.59 L851.0,550.27 L852.0,556.03 L853.0,561.86 L854.0,567.78 L855.0,573.78 L856.0,579.86 L857.0,586.02 L858.0,592.27 L859.0,598.60 L860.0,605.01 L861.0,611.51 L862.0,618.10 L863.0,624.77 L864.0,631.53 L865.0,638.37 L866.0,645.31 L867.0,652.33 L868.0,659.44 L869.0,666.65 L870.0,673.94 L871.0,681.32 L872.0,688.79 L873.0,696.35 L874.0,704.00 L875.0,711.74 L876.0,719.57 L877.0,727.49 L878.0,735.49 L879.0,743.59 L880.0,751.77 L881.0,760.05 L882.0,768.40 L883.0,776.85 L884.0,785.38 L885.0,793.99 L886.0,802.68 L887.0,811.46 L888.0,820.31 L889.0,829.24 L890.0,838.25 L891.0,847.33 L892.0,856.48 L893.0,865.70 L894.0,874.98 L895.0,884.33 L896.0,893.74 L897.0,903.20 L898.0,912.72 L899.0,922.29 L900.0,931.90 L901.0,941.56 L902.0,951.25 L903.0,960.98 L904.0,970.73 L905.0,980.50 L906.0,990.29 L907.0,1000.10 L908.0,1009.91 L909.0,1019.71 L910.0,1029.51 L911.0,1039.30 L912.0,1049.07 L913.0,1058.81 L914.0,1068.51 L915.0,1078.17 L916.0,1087.78 L917.0,1097.33 L917.5,1102.08 L918.0,1106.81 L918.5,1111.53 L919.0,1116.22 L919.5,1120.89 L920.0,1125.54 L920.5,1130.17 L921.0,1134.77 L921.5,1139.35 L922.0,1143.90 L922.5,1148.42 L923.0,1152.91 L923.5,1157.38 L924.0,1161.81 L924.5,1166.20 L925.0,1170.57 L925.5,1174.90 L926.0,1179.19 L926.5,1183.44 L927.0,1187.66 L927.5,1191.83 L928.0,1195.96 L928.5,1200.05 L929.0,1204.10 L929.5,1208.10 L930.0,1212.06 L930.5,1215.97 L931.0,1219.82 L931.5,1223.63 L932.0,1227.39 L932.5,1231.09 L933.0,1234.74 L933.5,1238.34 L934.0,1241.88 L934.5,1245.36 L935.0,1248.78 L935.5,1252.14 L936.0,1255.45 L936.5,1258.68 L937.0,1261.86 L937.5,1264.97 L938.0,1268.02 L938.5,1271.00 L939.0,1273.91 L939.5,1276.75 L940.0,1279.52 L940.5,1282.22 L941.0,1284.85 L941.5,1287.40 L942.0,1289.88 L942.5,1292.29 L943.0,1294.62 L943.5,1296.87 L944.0,1299.05 L944.5,1301.14 L945.0,1303.16 L945.5,1305.09 L946.0,1306.95 L946.5,1308.72 L947.0,1310.41 L947.5,1312.02 L948.0,1313.54 L948.5,1314.98 L949.0,1316.33 L949.5,1317.60 L950.0,1318.78 L950.5,1319.87 L951.0,1320.88 L951.5,1321.80 L952.0,1322.63 L952.5,1323.37 L953.0,1324.03 L953.5,1324.59 L954.0,1325.07 L954.5,1325.45 L955.0,1325.75 L955.5,1325.95 L956.0,1326.07 L956.5,1326.10 L957.0,1326.04 L957.5,1325.88 L958.0,1325.64 L958.5,1325.31 L959.0,1324.89 L959.5,1324.37 L960.0,1323.77 L960.5,1323.08 L961.0,1322.31 L961.5,1321.44 L962.0,1320.49 L962.5,1319.45 L963.0,1318.32 L963.5,1317.10 L964.0,1315.80 L964.5,1314.41 L965.0,1312.94 L965.5,1311.38 L966.0,1309.74 L966.5,1308.02 L967.0,1306.22 L967.5,1304.33 L968.0,1302.36 L968.5,1300.31 L969.0,1298.18 L969.5,1295.98 L970.0,1293.70 L970.5,1291.34 L971.0,1288.90 L971.5,1286.39 L972.0,1283.80 L972.5,1281.15 L973.0,1278.42 L973.5,1275.62 L974.0,1272.75 L974.5,1269.81 L975.0,1266.81 L975.5,1263.74 L976.0,1260.60 L976.5,1257.40 L977.0,1254.13 L977.5,1250.81 L978.0,1247.42 L978.5,1243.97 L979.0,1240.47 L979.5,1236.91 L980.0,1233.29 L980.5,1229.62 L981.0,1225.89 L981.5,1222.11 L982.0,1218.29 L982.5,1214.41 L983.0,1210.48 L983.5,1206.51 L984.0,1202.49 L984.5,1198.42 L985.0,1194.32 L985.5,1190.17 L986.0,1185.97 L986.5,1181.74 L987.0,1177.47 L987.5,1173.17 L988.0,1168.83 L988.5,1164.45 L989.0,1160.04 L989.5,1155.59 L990.0,1151.12 L990.5,1146.62 L991.0,1142.08 L991.5,1137.52 L992.0,1132.94 L992.5,1128.32 L993.0,1123.69 L993.5,1119.03 L994.0,1114.35 L994.5,1109.65 L995.0,1104.92 L995.5,1100.18 L996.0,1095.43 L996.5,1090.65 L997.5,1081.06 L998.5,1071.41 L999.5,1061.72 L1000.5,1051.99 L1001.5,1042.23 L1002.5,1032.45 L1003.5,1022.65 L1004.5,1012.85 L1005.5,1003.04 L1006.5,993.23 L1007.5,983.44 L1008.5,973.66 L1009.5,963.90 L1010.5,954.17 L1011.5,944.46 L1012.5,934.80 L1013.5,925.17 L1014.5,915.59 L1015.5,906.05 L1016.5,896.57 L1017.5,887.15 L1018.5,877.78 L1019.5,868.48 L1020.5,859.24 L1021.5,850.07 L1022.5,840.96 L1023.5,831.94 L1024.5,822.98 L1025.5,814.10 L1026.5,805.31 L1027.5,796.59 L1028.5,787.95 L1029.5,779.40 L1030.5,770.93 L1031.5,762.54 L1032.5,754.25 L1033.5,746.04 L1034.5,737.91 L1035.5,729.88 L1036.5,721.93 L1037.5,714.08 L1038.5,706.31 L1039.5,698.63 L1040.5,691.05 L1041.5,683.55 L1042.5,676.14 L1043.5,668.82 L1044.5,661.59 L1045.5,654.46 L1046.5,647.41 L1047.5,640.44 L1048.5,633.57 L1049.5,626.79 L1050.5,620.09 L1051.5,613.48 L1052.5,606.95 L1053.5,600.51 L1054.5,594.16 L1055.5,587.89 L1056.5,581.70 L1057.5,575.60 L1058.5,569.57 L1059.5,563.63 L1060.5,557.77 L1061.5,551.99 L1062.5,546.29 L1063.5,540.66 L1064.5,535.11 L1065.5,529.64 L1066.5,524.25 L1067.5,518.92 L1068.5,513.67 L1069.5,508.50 L1070.5,503.39 L1071.5,498.36 L1072.5,493.40 L1073.5,488.50 L1074.5,483.68 L1075.5,478.92 L1076.5,474.22 L1077.5,469.60 L1078.5,465.03 L1079.5,460.53 L1080.5,456.10 L1081.5,451.72 L1082.5,447.41 L1083.5,443.16 L1084.5,438.96 L1085.5,434.83 L1086.5,430.75 L1087.5,426.73 L1088.5,422.76 L1089.5,418.85 L1090.5,414.99 L1091.5,411.19 L1092.5,407.44 L1093.5,403.74 L1094.5,400.10 L1095.5,396.50 L1096.5,392.95 L1097.5,389.46 L1098.5,386.01 L1099.5,382.60 L1100.5,379.25 L1101.5,375.94 L1102.5,372.67 L1103.5,369.45 L1104.5,366.27 L1105.5,363.14 L1106.5,360.05 L1109.5,351.03 L1112.5,342.36 L1115.5,334.04 L1118.5,326.04 L1121.5,318.36 L1124.5,310.98 L1127.5,303.88 L1130.5,297.05 L1133.5,290.48 L1136.5,284.16 L1139.5,278.07 L1142.5,272.21 L1145.5,266.57 L1148.5,261.13 L1151.5,255.89 L1154.5,250.83 L1157.5,245.96 L1160.5,241.26 L1163.5,236.72 L1166.5,232.34 L1169.5,228.11 L1172.5,224.02 L1175.5,220.07 L1178.5,216.25 L1181.5,212.56 L1184.5,209.00 L1187.5,205.54 L1190.5,202.20 L1193.5,198.97 L1196.5,195.84 L1199.5,192.81 L1202.5,189.87 L1205.5,187.03 L1208.5,184.27 L1211.5,181.60 L1214.5,179.00 L1217.5,176.49 L1220.5,174.05 L1223.5,171.68 L1226.5,169.38 L1229.5,167.14 L1232.5,164.97 L1235.5,162.87 L1238.5,160.82 L1241.5,158.83 L1244.5,156.89 L1247.5,155.01 L1250.5,153.18 L1253.5,151.40 L1256.5,149.67 L1259.5,147.98 L1262.5,146.34 L1265.5,144.75 L1268.5,143.19 L1271.5,141.67 L1274.5,140.20 L1277.5,138.76 L1280.5,137.35 L1283.5,135.98 L1286.5,134.65 L1289.5,133.35 L1292.5,132.08 L1295.5,130.84 L1298.5,129.64 L1301.5,128.46 L1304.5,127.31 L1307.5,126.18 L1310.5,125.09 L1313.5,124.01 L1316.5,122.97 L1319.5,121.94 L1322.5,120.95 L1325.5,119.97 L1328.5,119.01 L1331.5,118.08 L1334.5,117.17 L1337.5,116.28 L1340.5,115.40 L1343.5,114.55 L1346.5,113.71 L1349.5,112.90 L1352.5,112.10 L1355.5,111.31 L1358.5,110.55 L1361.5,109.80 L1364.5,109.06 L1367.5,108.34 L1370.5,107.64 L1373.5,106.95 L1376.5,106.27 L1379.5,105.61 L1382.5,104.96 L1385.5,104.32 L1388.5,103.70 L1391.5,103.08 L1394.5,102.48 L1397.5,101.90 L1400.5,101.32 L1403.5,100.75 L1406.5,100.20 L1409.5,99.65 L1412.5,99.12 L1415.5,98.59 L1418.5,98.08 L1421.5,97.57 L1424.5,97.08 L1427.5,96.59 L1430.5,96.11 L1433.5,95.64 L1436.5,95.18 L1439.5,94.73 L1442.5,94.28 L1445.5,93.85 L1448.5,93.42 L1451.5,93.00 L1454.5,92.58 L1457.5,92.17 L1460.5,91.77 L1463.5,91.38 L1466.5,90.99 L1469.5,90.61 L1472.5,90.24 L1475.5,89.87 L1478.5,89.51 L1481.5,89.15 L1484.5,88.80 L1487.5,88.46 L1490.5,88.12 L1493.5,87.79 L1496.5,87.46 L1499.5,87.14 L1502.5,86.82 L1505.5,86.51 L1508.5,86.20 L1511.5,85.90 L1514.5,85.60 L1517.5,85.31 L1520.5,85.02 L1523.5,84.74 L1526.5,84.46 L1529.5,84.18 L1532.5,83.91 L1535.5,83.64 L1538.5,83.38 L1541.5,83.12 L1544.5,82.86 L1547.5,82.61 L1550.5,82.36 L1553.5,82.12 L1556.5,81.88 L1559.5,81.64 L1562.5,81.41 L1565.5,81.18 L1568.5,80.95 L1571.5,80.73 L1574.5,80.50 L1577.5,80.29 L1580.5,80.07 L1583.5,79.86 L1586.5,79.65 L1589.5,79.45 L1592.5,79.24 L1595.5,79.04 L1598.5,78.85 L1601.5,78.65 L1604.5,78.46 L1607.5,78.27 L1610.5,78.08 L1613.5,77.90 L1616.5,77.72 L1619.5,77.54 L1622.5,77.36 L1625.5,77.18 L1628.5,77.01 L1631.5,76.84 L1634.5,76.67 L1637.5,76.51 L1640.5,76.34 L1643.5,76.18 L1646.5,76.02 L1649.5,75.86 L1652.5,75.71 L1655.5,75.55 L1658.5,75.40 L1661.5,75.25 L1664.5,75.10 L1667.5,74.96 L1670.5,74.81 L1673.5,74.67 L1676.5,74.53 L1679.5,74.39 L1682.5,74.25 L1685.5,74.12 L1688.5,73.98 L1691.5,73.85 L1694.5,73.72 L1697.5,73.59 L1700.5,73.46 L1703.5,73.34 L1706.5,73.21 L1709.5,73.09 L1712.5,72.97 L1715.5,72.85 L1718.5,72.73 L1721.5,72.61 L1724.5,72.49 L1727.5,72.38 L1730.5,72.26 L1733.5,72.15 L1736.5,72.04 L1739.5,71.93 L1742.5,71.82 L1745.5,71.71 L1748.5,71.61 L1751.5,71.50 L1754.5,71.40 L1757.5,71.30 L1760.5,71.19 L1763.5,71.09 L1766.5,70.99 L1769.5,70.90 L1772.5,70.80 L1775.5,70.70 L1778.5,70.61 L1781.5,70.51 L1784.5,70.42 L1787.5,70.33 L1790.5,70.24 L1793.5,70.15 L1796.5,70.06 L1799.5,69.97 L1802.5,69.88 L1805.5,69.80 L1808.5,69.71 L1811.5,69.62 L1814.5,69.54 L1817.5,69.46 L1820.5,69.38 L1823.5,69.29 L1826.5,69.21 L1829.5,69.13"/>
<path stroke="#0072BD" d="M172.0,71.05 L175.0,71.15 L178.0,71.25 L181.0,71.35 L184.0,71.45 L187.0,71.56 L190.0,71.66 L193.0,71.77 L196.0,71.88 L199.0,71.99 L202.0,72.10 L205.0,72.21 L208.0,72.32 L211.0,72.43 L214.0,72.55 L217.0,72.67 L220.0,72.78 L223.0,72.90 L226.0,73.03 L229.0,73.15 L232.0,73.27 L235.0,73.40 L238.0,73.52 L241.0,73.65 L244.0,73.78 L247.0,73.91 L250.0,74.05 L253.0,74.18 L256.0,74.32 L259.0,74.46 L262.0,74.60 L265.0,74.74 L268.0,74.88 L271.0,75.03 L274.0,75.17 L277.0,75.32 L280.0,75.47 L283.0,75.62 L286.0,75.78 L289.0,75.93 L292.0,76.09 L295.0,76.25 L298.0,76.42 L301.0,76.58 L304.0,76.75 L307.0,76.92 L310.0,77.09 L313.0,77.26 L316.0,77.44 L319.0,77.61 L322.0,77.79 L325.0,77.98 L328.0,78.16 L331.0,78.35 L334.0,78.54 L337.0,78.73 L340.0,78.93 L343.0,79.13 L346.0,79.33 L349.0,79.53 L352.0,79.74 L355.0,79.95 L358.0,80.16 L361.0,80.38 L364.0,80.60 L367.0,80.82 L370.0,81.04 L373.0,81.27 L376.0,81.50 L379.0,81.74 L382.0,81.98 L385.0,82.22 L388.0,82.46 L391.0,82.71 L394.0,82.96 L397.0,83.22 L400.0,83.48 L403.0,83.75 L406.0,84.01 L409.0,84.29 L412.0,84.56 L415.0,84.85 L418.0,85.13 L421.0,85.42 L424.0,85.71 L427.0,86.01 L430.0,86.32 L433.0,86.63 L436.0,86.94 L439.0,87.26 L442.0,87.58 L445.0,87.91 L448.0,88.25 L451.0,88.59 L454.0,88.93 L457.0,89.28 L460.0,89.64 L463.0,90.00 L466.0,90.37 L469.0,90.75 L472.0,91.13 L475.0,91.52 L478.0,91.91 L481.0,92.32 L484.0,92.73 L487.0,93.14 L490.0,93.57 L493.0,94.00 L496.0,94.44 L499.0,94.88 L502.0,95.34 L505.0,95.80 L508.0,96.27 L511.0,96.75 L514.0,97.24 L517.0,97.74 L520.0,98.25 L523.0,98.77 L526.0,99.29 L529.0,99.83 L532.0,100.38 L535.0,100.94 L538.0,101.50 L541.0,102.08 L544.0,102.68 L547.0,103.28 L550.0,103.89 L553.0,104.52 L556.0,105.16 L559.0,105.81 L562.0,106.48 L565.0,107.16 L568.0,107.85 L571.0,108.56 L574.0,109.29 L577.0,110.02 L580.0,110.78 L583.0,111.55 L586.0,112.34 L589.0,113.14 L592.0,113.96 L595.0,114.80 L598.0,115.66 L601.0,116.54 L604.0,117.43 L607.0,118.35 L610.0,119.29 L613.0,120.25 L616.0,121.23 L619.0,122.23 L622.0,123.26 L625.0,124.31 L628.0,125.39 L631.0,126.49 L634.0,127.62 L637.0,128.78 L640.0,129.96 L643.0,131.18 L646.0,132.42 L649.0,133.70 L652.0,135.00 L655.0,136.35 L658.0,137.72 L661.0,139.13 L664.0,140.58 L667.0,142.06 L670.0,143.59 L673.0,145.15 L676.0,146.76 L679.0,148.41 L682.0,150.10 L685.0,151.85 L688.0,153.64 L691.0,155.48 L694.0,157.37 L697.0,159.31 L700.0,161.31 L703.0,163.37 L706.0,165.49 L709.0,167.67 L712.0,169.92 L715.0,172.23 L718.0,174.61 L721.0,177.07 L724.0,179.60 L727.0,182.21 L730.0,184.90 L733.0,187.67 L736.0,190.53 L739.0,193.49 L742.0,196.54 L745.0,199.68 L748.0,202.94 L751.0,206.30 L754.0,209.77 L757.0,213.36 L760.0,217.07 L763.0,220.91 L766.0,224.88 L769.0,228.99 L772.0,233.25 L775.0,237.66 L778.0,242.22 L781.0,246.95 L784.0,251.86 L787.0,256.94 L790.0,262.22 L793.0,267.69 L796.0,273.37 L799.0,279.27 L802.0,285.39 L805.0,291.76 L808.0,298.37 L811.0,305.24 L814.0,312.38 L817.0,319.82 L820.0,327.55 L823.0,335.59 L826.0,343.97 L829.0,352.69 L832.0,361.77 L833.0,364.89 L834.0,368.04 L835.0,371.24 L836.0,374.48 L837.0,377.77 L838.0,381.10 L839.0,384.48 L840.0,387.90 L841.0,391.37 L842.0,394.90 L843.0,398.47 L844.0,402.09 L845.0,405.76 L846.0,409.48 L847.0,413.26 L848.0,417.08 L849.0,420.97 L850.0,424.90 L851.0,428.89 L852.0,432.94 L853.0,437.05 L854.0,441.21 L855.0,445.43 L856.0,449.72 L857.0,454.06 L858.0,458.46 L859.0,462.93 L860.0,467.46 L861.0,472.05 L862.0,476.71 L863.0,481.43 L864.0,486.22 L865.0,491.08 L866.0,496.01 L867.0,501.01 L868.0,506.07 L869.0,511.21 L870.0,516.42 L871.0,521.71 L872.0,527.06 L873.0,532.50 L874.0,538.00 L875.0,543.59 L876.0,549.25 L877.0,554.99 L878.0,560.81 L879.0,566.71 L880.0,572.69 L881.0,578.75 L882.0,584.90 L883.0,591.12 L884.0,597.44 L885.0,603.83 L886.0,610.31 L887.0,616.88 L888.0,623.53 L889.0,630.28 L890.0,637.10 L891.0,644.02 L892.0,651.03 L893.0,658.12 L894.0,665.30 L895.0,672.58 L896.0,679.94 L897.0,687.39 L898.0,694.94 L899.0,702.57 L900.0,710.29 L901.0,718.11 L902.0,726.01 L903.0,734.00 L904.0,742.09 L905.0,750.26 L906.0,758.52 L907.0,766.86 L908.0,775.29 L909.0,783.81 L910.0,792.41 L911.0,801.10 L912.0,809.86 L913.0,818.71 L914.0,827.63 L915.0,836.63 L916.0,845.71 L917.0,854.86 L918.0,864.08 L919.0,873.36 L920.0,882.71 L921.0,892.12 L922.0,901.59 L923.0,911.12 L924.0,920.69 L925.0,930.32 L926.0,939.98 L927.0,949.69 L928.0,959.43 L929.0,969.20 L930.0,979.00 L931.0,988.81 L932.0,998.64 L933.0,1008.48 L934.0,1018.32 L935.0,1028.16 L936.0,1037.98 L937.0,1047.79 L938.0,1057.57 L939.0,1067.32 L940.0,1077.03 L941.0,1086.70 L942.0,1096.31 L942.5,1101.09 L943.0,1105.85 L943.5,1110.60 L944.0,1115.32 L944.5,1120.03 L945.0,1124.72 L945.5,1129.38 L946.0,1134.02 L946.5,1138.63 L947.0,1143.22 L947.5,1147.78 L948.0,1152.31 L948.5,1156.82 L949.0,1161.29 L949.5,1165.73 L950.0,1170.14 L950.5,1174.51 L951.0,1178.85 L951.5,1183.15 L952.0,1187.42 L952.5,1191.64 L953.0,1195.82 L953.5,1199.97 L954.0,1204.07 L954.5,1208.12 L955.0,1212.13 L955.5,1216.09 L956.0,1220.01 L956.5,1223.87 L957.0,1227.69 L957.5,1231.45 L958.0,1235.16 L958.5,1238.82 L959.0,1242.42 L959.5,1245.96 L960.0,1249.45 L960.5,1252.88 L961.0,1256.24 L961.5,1259.55 L962.0,1262.79 L962.5,1265.97 L963.0,1269.09 L963.5,1272.14 L964.0,1275.12 L964.5,1278.03 L965.0,1280.87 L965.5,1283.65 L966.0,1286.35 L966.5,1288.98 L967.0,1291.53 L967.5,1294.01 L968.0,1296.42 L968.5,1298.75 L969.0,1301.00 L969.5,1303.17 L970.0,1305.27 L970.5,1307.28 L971.0,1309.22 L971.5,1311.07 L972.0,1312.84 L972.5,1314.53 L973.0,1316.13 L973.5,1317.65 L974.0,1319.08 L974.5,1320.43 L975.0,1321.69 L975.5,1322.87 L976.0,1323.96 L976.5,1324.96 L977.0,1325.87 L977.5,1326.70 L978.0,1327.43 L978.5,1328.08 L979.0,1328.64 L979.5,1329.10 L980.0,1329.48 L980.5,1329.77 L981.0,1329.97 L981.5,1330.08 L982.0,1330.10 L982.5,1330.02 L983.0,1329.86 L983.5,1329.61 L984.0,1329.27 L984.5,1328.83 L985.0,1328.31 L985.5,1327.70 L986.0,1327.00 L986.5,1326.21 L987.0,1325.33 L987.5,1324.37 L988.0,1323.31 L988.5,1322.17 L989.0,1320.95 L989.5,1319.63 L990.0,1318.23 L990.5,1316.75 L991.0,1315.18 L991.5,1313.52 L992.0,1311.79 L992.5,1309.97 L993.0,1308.07 L993.5,1306.08 L994.0,1304.02 L994.5,1301.88 L995.0,1299.66 L995.5,1297.36 L996.0,1294.98 L996.5,1292.53 L997.0,1290.01 L997.5,1287.41 L998.0,1284.74 L998.5,1281.99 L999.0,1279.18 L999.5,1276.29 L1000.0,1273.34 L1000.5,1270.31 L1001.0,1267.23 L1001.5,1264.07 L1002.0,1260.86 L1002.5,1257.57 L1003.0,1254.23 L1003.5,1250.83 L1004.0,1247.37 L1004.5,1243.84 L1005.0,1240.27 L1005.5,1236.63 L1006.0,1232.94 L1006.5,1229.20 L1007.0,1225.41 L1007.5,1221.56 L1008.0,1217.66 L1008.5,1213.72 L1009.0,1209.73 L1009.5,1205.69 L1010.0,1201.61 L1010.5,1197.49 L1011.0,1193.32 L1011.5,1189.11 L1012.0,1184.86 L1012.5,1180.58 L1013.0,1176.25 L1013.5,1171.89 L1014.0,1167.50 L1014.5,1163.07 L1015.0,1158.61 L1015.5,1154.12 L1016.0,1149.60 L1016.5,1145.05 L1017.0,1140.47 L1017.5,1135.87 L1018.0,1131.24 L1018.5,1126.58 L1019.0,1121.91 L1019.5,1117.21 L1020.0,1112.49 L1020.5,1107.75 L1021.0,1102.99 L1021.5,1098.22 L1022.0,1093.43 L1023.0,1083.80 L1024.0,1074.13 L1025.0,1064.40 L1026.0,1054.64 L1027.0,1044.85 L1028.0,1035.04 L1029.0,1025.21 L1030.0,1015.37 L1031.0,1005.53 L1032.0,995.69 L1033.0,985.87 L1034.0,976.06 L1035.0,966.27 L1036.0,956.51 L1037.0,946.77 L1038.0,937.08 L1039.0,927.42 L1040.0,917.81 L1041.0,908.25 L1042.0,898.74 L1043.0,889.29 L1044.0,879.90 L1045.0,870.57 L1046.0,861.30 L1047.0,852.11 L1048.0,842.98 L1049.0,833.93 L1050.0,824.95 L1051.0,816.05 L1052.0,807.22 L1053.0,798.48 L1054.0,789.82 L1055.0,781.25 L1056.0,772.75 L1057.0,764.35 L1058.0,756.03 L1059.0,747.80 L1060.0,739.65 L1061.0,731.60 L1062.0,723.63 L1063.0,715.75 L1064.0,707.97 L1065.0,700.27 L1066.0,692.66 L1067.0,685.15 L1068.0,677.72 L1069.0,670.39 L1070.0,663.14 L1071.0,655.98 L1072.0,648.91 L1073.0,641.94 L1074.0,635.05 L1075.0,628.24 L1076.0,621.53 L1077.0,614.90 L1078.0,608.36 L1079.0,601.90 L1080.0,595.53 L1081.0,589.25 L1082.0,583.04 L1083.0,576.92 L1084.0,570.89 L1085.0,564.93 L1086.0,559.06 L1087.0,553.26 L1088.0,547.54 L1089.0,541.90 L1090.0,536.34 L1091.0,530.86 L1092.0,525.45 L1093.0,520.11 L1094.0,514.85 L1095.0,509.66 L1096.0,504.55 L1097.0,499.50 L1098.0,494.52 L1099.0,489.62 L1100.0,484.78 L1101.0,480.01 L1102.0,475.30 L1103.0,470.67 L1104.0,466.09 L1105.0,461.58 L1106.0,457.13 L1107.0,452.75 L1108.0,448.42 L1109.0,444.16 L1110.0,439.96 L1111.0,435.81 L1112.0,431.72 L1113.0,427.69 L1114.0,423.72 L1115.0,419.80 L1116.0,415.93 L1117.0,412.12 L1118.0,408.36 L1119.0,404.65 L1120.0,401.00 L1121.0,397.39 L1122.0,393.83 L1123.0,390.33 L1124.0,386.87 L1125.0,383.46 L1126.0,380.09 L1127.0,376.78 L1128.0,373.50 L1129.0,370.27 L1130.0,367.09 L1131.0,363.95 L1132.0,360.85 L1135.0,351.80 L1138.0,343.12 L1141.0,334.77 L1144.0,326.76 L1147.0,319.06 L1150.0,311.66 L1153.0,304.54 L1156.0,297.69 L1159.0,291.11 L1162.0,284.77 L1165.0,278.67 L1168.0,272.79 L1171.0,267.14 L1174.0,261.68 L1177.0,256.43 L1180.0,251.36 L1183.0,246.47 L1186.0,241.76 L1189.0,237.21 L1192.0,232.82 L1195.0,228.57 L1198.0,224.48 L1201.0,220.52 L1204.0,216.69 L1207.0,212.99 L1210.0,209.42 L1213.0,205.95 L1216.0,202.61 L1219.0,199.36 L1222.0,196.23 L1225.0,193.19 L1228.0,190.24 L1231.0,187.39 L1234.0,184.62 L1237.0,181.94 L1240.0,179.34 L1243.0,176.82 L1246.0,174.37 L1249.0,172.00 L1252.0,169.69 L1255.0,167.45 L1258.0,165.28 L1261.0,163.16 L1264.0,161.11 L1267.0,159.12 L1270.0,157.18 L1273.0,155.29 L1276.0,153.45 L1279.0,151.67 L1282.0,149.93 L1285.0,148.24 L1288.0,146.60 L1291.0,144.99 L1294.0,143.43 L1297.0,141.91 L1300.0,140.43 L1303.0,138.99 L1306.0,137.58 L1309.0,136.21 L1312.0,134.87 L1315.0,133.57 L1318.0,132.30 L1321.0,131.05 L1324.0,129.84 L1327.0,128.66 L1330.0,127.51 L1333.0,126.38 L1336.0,125.28 L1339.0,124.21 L1342.0,123.16 L1345.0,122.13 L1348.0,121.13 L1351.0,120.15 L1354.0,119.19 L1357.0,118.26 L1360.0,117.34 L1363.0,116.45 L1366.0,115.57 L1369.0,114.72 L1372.0,113.88 L1375.0,113.06 L1378.0,112.26 L1381.0,111.47 L1384.0,110.70 L1387.0,109.95 L1390.0,109.21 L1393.0,108.49 L1396.0,107.78 L1399.0,107.09 L1402.0,106.41 L1405.0,105.75 L1408.0,105.10 L1411.0,104.46 L1414.0,103.83 L1417.0,103.22 L1420.0,102.62 L1423.0,102.03 L1426.0,101.45 L1429.0,100.88 L1432.0,100.32 L1435.0,99.78 L1438.0,99.24 L1441.0,98.71 L1444.0,98.20 L1447.0,97.69 L1450.0,97.19 L1453.0,96.71 L1456.0,96.23 L1459.0,95.75 L1462.0,95.29 L1465.0,94.84 L1468.0,94.39 L1471.0,93.95 L1474.0,93.52 L1477.0,93.10 L1480.0,92.68 L1483.0,92.28 L1486.0,91.87 L1489.0,91.48 L1492.0,91.09 L1495.0,90.71 L1498.0,90.34 L1501.0,89.97 L1504.0,89.60 L1507.0,89.25 L1510.0,88.90 L1513.0,88.55 L1516.0,88.21 L1519.0,87.88 L1522.0,87.55 L1525.0,87.23 L1528.0,86.91 L1531.0,86.60 L1534.0,86.29 L1537.0,85.98 L1540.0,85.69 L1543.0,85.39 L1546.0,85.10 L1549.0,84.82 L1552.0,84.54 L1555.0,84.26 L1558.0,83.99 L1561.0,83.72 L1564.0,83.46 L1567.0,83.20 L1570.0,82.94 L1573.0,82.69 L1576.0,82.44 L1579.0,82.19 L1582.0,81.95 L1585.0,81.71 L1588.0,81.48 L1591.0,81.25 L1594.0,81.02 L1597.0,80.80 L1600.0,80.57 L1603.0,80.36 L1606.0,80.14 L1609.0,79.93 L1612.0,79.72 L1615.0,79.51 L1618.0,79.31 L1621.0,79.11 L1624.0,78.91 L1627.0,78.71 L1630.0,78.52 L1633.0,78.33 L1636.0,78.14 L1639.0,77.96 L1642.0,77.78 L1645.0,77.60 L1648.0,77.42 L1651.0,77.24 L1654.0,77.07 L1657.0,76.90 L1660.0,76.73 L1663.0,76.56 L1666.0,76.40 L1669.0,76.24 L1672.0,76.08 L1675.0,75.92 L1678.0,75.76 L1681.0,75.61 L1684.0,75.46 L1687.0,75.31 L1690.0,75.16 L1693.0,75.01 L1696.0,74.87 L1699.0,74.72 L1702.0,74.58 L1705.0,74.44 L1708.0,74.30 L1711.0,74.17 L1714.0,74.03 L1717.0,73.90 L1720.0,73.77 L1723.0,73.64 L1726.0,73.51 L1729.0,73.38 L1732.0,73.26 L1735.0,73.14 L1738.0,73.01 L1741.0,72.89 L1744.0,72.77 L1747.0,72.65 L1750.0,72.54 L1753.0,72.42 L1756.0,72.31 L1759.0,72.20 L1762.0,72.08 L1765.0,71.97 L1768.0,71.87 L1771.0,71.76 L1774.0,71.65 L1777.0,71.55 L1780.0,71.44 L1783.0,71.34 L1786.0,71.24 L1789.0,71.14 L1792.0,71.04 L1795.0,70.94 L1798.0,70.84 L1801.0,70.74 L1804.0,70.65 L1807.0,70.55 L1810.0,70.46 L1813.0,70.37 L1816.0,70.28 L1819.0,70.19 L1822.0,70.10 L1825.0,70.01 L1828.0,69.92 L1831.0,69.83"/>
<path stroke="#F7500A" d="M172.0,67.41 L175.0,67.47 L178.0,67.53 L181.0,67.59 L184.0,67.66 L187.0,67.72 L190.0,67.79 L193.0,67.85 L196.0,67.92 L199.0,67.99 L202.0,68.05 L205.0,68.12 L208.0,68.19 L211.0,68.26 L214.0,68.33 L217.0,68.40 L220.0,68.47 L223.0,68.54 L226.0,68.62 L229.0,68.69 L232.0,68.76 L235.0,68.84 L238.0,68.91 L241.0,68.99 L244.0,69.07 L247.0,69.15 L250.0,69.23 L253.0,69.31 L256.0,69.39 L259.0,69.47 L262.0,69.55 L265.0,69.63 L268.0,69.72 L271.0,69.80 L274.0,69.89 L277.0,69.97 L280.0,70.06 L283.0,70.15 L286.0,70.24 L289.0,70.33 L292.0,70.42 L295.0,70.51 L298.0,70.60 L301.0,70.70 L304.0,70.79 L307.0,70.89 L310.0,70.99 L313.0,71.09 L316.0,71.18 L319.0,71.28 L322.0,71.39 L325.0,71.49 L328.0,71.59 L331.0,71.70 L334.0,71.80 L337.0,71.91 L340.0,72.02 L343.0,72.13 L346.0,72.24 L349.0,72.35 L352.0,72.47 L355.0,72.58 L358.0,72.70 L361.0,72.81 L364.0,72.93 L367.0,73.05 L370.0,73.18 L373.0,73.30 L376.0,73.42 L379.0,73.55 L382.0,73.68 L385.0,73.80 L388.0,73.94 L391.0,74.07 L394.0,74.20 L397.0,74.34 L400.0,74.47 L403.0,74.61 L406.0,74.75 L409.0,74.89 L412.0,75.04 L415.0,75.18 L418.0,75.33 L421.0,75.48 L424.0,75.63 L427.0,75.78 L430.0,75.94 L433.0,76.10 L436.0,76.26 L439.0,76.42 L442.0,76.58 L445.0,76.74 L448.0,76.91 L451.0,77.08 L454.0,77.25 L457.0,77.43 L460.0,77.60 L463.0,77.78 L466.0,77.96 L469.0,78.15 L472.0,78.33 L475.0,78.52 L478.0,78.71 L481.0,78.90 L484.0,79.10 L487.0,79.30 L490.0,79.50 L493.0,79.70 L496.0,79.91 L499.0,80.12 L502.0,80.33 L505.0,80.55 L508.0,80.77 L511.0,80.99 L514.0,81.22 L517.0,81.45 L520.0,81.68 L523.0,81.91 L526.0,82.15 L529.0,82.39 L532.0,82.64 L535.0,82.89 L538.0,83.14 L541.0,83.40 L544.0,83.66 L547.0,83.92 L550.0,84.19 L553.0,84.46 L556.0,84.74 L559.0,85.02 L562.0,85.31 L565.0,85.60 L568.0,85.89 L571.0,86.19 L574.0,86.50 L577.0,86.80 L580.0,87.12 L583.0,87.44 L586.0,87.76 L589.0,88.09 L592.0,88.42 L595.0,88.76 L598.0,89.11 L601.0,89.46 L604.0,89.81 L607.0,90.18 L610.0,90.55 L613.0,90.92 L616.0,91.30 L619.0,91.69 L622.0,92.09 L625.0,92.49 L628.0,92.89 L631.0,93.31 L634.0,93.73 L637.0,94.16 L640.0,94.60 L643.0,95.05 L646.0,95.50 L649.0,95.96 L652.0,96.43 L655.0,96.91 L658.0,97.40 L661.0,97.89 L664.0,98.40 L667.0,98.91 L670.0,99.44 L673.0,99.97 L676.0,100.52 L679.0,101.07 L682.0,101.64 L685.0,102.22 L688.0,102.81 L691.0,103.41 L694.0,104.02 L697.0,104.64 L700.0,105.28 L703.0,105.93 L706.0,106.59 L709.0,107.26 L712.0,107.95 L715.0,108.66 L718.0,109.38 L721.0,110.11 L724.0,110.86 L727.0,111.62 L730.0,112.40 L733.0,113.20 L736.0,114.02 L739.0,114.85 L742.0,115.70 L745.0,116.57 L748.0,117.46 L751.0,118.37 L754.0,119.30 L757.0,120.25 L760.0,121.22 L763.0,122.21 L766.0,123.23 L769.0,124.27 L772.0,125.34 L775.0,126.43 L778.0,127.55 L781.0,128.69 L784.0,129.86 L787.0,131.06 L790.0,132.29 L793.0,133.55 L796.0,134.84 L799.0,136.16 L802.0,137.52 L805.0,138.91 L808.0,140.34 L811.0,141.81 L814.0,143.31 L817.0,144.85 L820.0,146.43 L823.0,148.06 L826.0,149.73 L829.0,151.44 L832.0,153.20 L835.0,155.01 L838.0,156.87 L841.0,158.79 L844.0,160.75 L847.0,162.78 L850.0,164.86 L853.0,167.00 L856.0,169.20 L859.0,171.47 L862.0,173.81 L865.0,176.21 L868.0,178.69 L871.0,181.25 L874.0,183.88 L877.0,186.60 L880.0,189.40 L883.0,192.29 L886.0,195.27 L889.0,198.34 L892.0,201.52 L895.0,204.80 L898.0,208.19 L901.0,211.69 L904.0,215.31 L907.0,219.05 L910.0,222.92 L913.0,226.92 L916.0,231.06 L919.0,235.35 L922.0,239.79 L925.0,244.38 L928.0,249.15 L931.0,254.08 L934.0,259.20 L937.0,264.50 L940.0,270.01 L943.0,275.72 L946.0,281.64 L949.0,287.80 L952.0,294.19 L955.0,300.83 L958.0,307.73 L961.0,314.90 L964.0,322.35 L967.0,330.11 L970.0,338.18 L973.0,346.57 L976.0,355.31 L979.0,364.41 L982.0,373.88 L983.0,377.13 L984.0,380.41 L985.0,383.75 L986.0,387.13 L987.0,390.56 L988.0,394.03 L989.0,397.55 L990.0,401.12 L991.0,404.74 L992.0,408.41 L993.0,412.13 L994.0,415.90 L995.0,419.73 L996.0,423.61 L997.0,427.54 L998.0,431.53 L999.0,435.57 L1000.0,439.67 L1001.0,443.83 L1002.0,448.04 L1003.0,452.31 L1004.0,456.65 L1005.0,461.04 L1006.0,465.49 L1007.0,470.01 L1008.0,474.59 L1009.0,479.24 L1010.0,483.95 L1011.0,488.72 L1012.0,493.56 L1013.0,498.47 L1014.0,503.45 L1015.0,508.50 L1016.0,513.61 L1017.0,518.80 L1018.0,524.06 L1019.0,529.39 L1020.0,534.80 L1021.0,540.27 L1022.0,545.83 L1023.0,551.46 L1024.0,557.17 L1025.0,562.95 L1026.0,568.82 L1027.0,574.76 L1028.0,580.78 L1029.0,586.88 L1030.0,593.07 L1031.0,599.34 L1032.0,605.68 L1033.0,612.12 L1034.0,618.63 L1035.0,625.23 L1036.0,631.92 L1037.0,638.69 L1038.0,645.55 L1039.0,652.49 L1040.0,659.52 L1041.0,666.64 L1042.0,673.85 L1043.0,681.14 L1044.0,688.52 L1045.0,695.99 L1046.0,703.54 L1047.0,711.18 L1048.0,718.91 L1049.0,726.73 L1050.0,734.64 L1051.0,742.63 L1052.0,750.70 L1053.0,758.86 L1054.0,767.11 L1055.0,775.44 L1056.0,783.85 L1057.0,792.34 L1058.0,800.91 L1059.0,809.57 L1060.0,818.30 L1061.0,827.10 L1062.0,835.98 L1063.0,844.93 L1064.0,853.95 L1065.0,863.03 L1066.0,872.19 L1067.0,881.40 L1068.0,890.67 L1069.0,900.00 L1070.0,909.38 L1071.0,918.81 L1072.0,928.29 L1073.0,937.80 L1074.0,947.36 L1075.0,956.94 L1076.0,966.56 L1077.0,976.19 L1078.0,985.85 L1079.0,995.52 L1080.0,1005.20 L1081.0,1014.87 L1082.0,1024.55 L1083.0,1034.21 L1084.0,1043.85 L1085.0,1053.47 L1086.0,1063.06 L1087.0,1072.61 L1088.0,1082.11 L1089.0,1091.56 L1090.0,1100.94 L1090.5,1105.61 L1091.0,1110.26 L1091.5,1114.89 L1092.0,1119.50 L1092.5,1124.08 L1093.0,1128.65 L1093.5,1133.18 L1094.0,1137.70 L1094.5,1142.19 L1095.0,1146.65 L1095.5,1151.08 L1096.0,1155.48 L1096.5,1159.85 L1097.0,1164.19 L1097.5,1168.50 L1098.0,1172.77 L1098.5,1177.01 L1099.0,1181.21 L1099.5,1185.37 L1100.0,1189.49 L1100.5,1193.58 L1101.0,1197.62 L1101.5,1201.62 L1102.0,1205.57 L1102.5,1209.48 L1103.0,1213.34 L1103.5,1217.16 L1104.0,1220.93 L1104.5,1224.64 L1105.0,1228.31 L1105.5,1231.93 L1106.0,1235.49 L1106.5,1238.99 L1107.0,1242.44 L1107.5,1245.83 L1108.0,1249.17 L1108.5,1252.45 L1109.0,1255.66 L1109.5,1258.81 L1110.0,1261.91 L1110.5,1264.93 L1111.0,1267.90 L1111.5,1270.79 L1112.0,1273.62 L1112.5,1276.39 L1113.0,1279.08 L1113.5,1281.70 L1114.0,1284.25 L1114.5,1286.73 L1115.0,1289.14 L1115.5,1291.47 L1116.0,1293.73 L1116.5,1295.92 L1117.0,1298.02 L1117.5,1300.05 L1118.0,1302.01 L1118.5,1303.88 L1119.0,1305.67 L1119.5,1307.39 L1120.0,1309.02 L1120.5,1310.57 L1121.0,1312.04 L1121.5,1313.42 L1122.0,1314.73 L1122.5,1315.95 L1123.0,1317.08 L1123.5,1318.13 L1124.0,1319.10 L1124.5,1319.97 L1125.0,1320.77 L1125.5,1321.47 L1126.0,1322.09 L1126.5,1322.63 L1127.0,1323.07 L1127.5,1323.43 L1128.0,1323.70 L1128.5,1323.89 L1129.0,1323.98 L1129.5,1323.99 L1130.0,1323.91 L1130.5,1323.75 L1131.0,1323.49 L1131.5,1323.15 L1132.0,1322.72 L1132.5,1322.21 L1133.0,1321.60 L1133.5,1320.92 L1134.0,1320.14 L1134.5,1319.28 L1135.0,1318.33 L1135.5,1317.30 L1136.0,1316.18 L1136.5,1314.98 L1137.0,1313.69 L1137.5,1312.32 L1138.0,1310.87 L1138.5,1309.33 L1139.0,1307.72 L1139.5,1306.02 L1140.0,1304.24 L1140.5,1302.39 L1141.0,1300.45 L1141.5,1298.44 L1142.0,1296.34 L1142.5,1294.18 L1143.0,1291.93 L1143.5,1289.61 L1144.0,1287.22 L1144.5,1284.76 L1145.0,1282.22 L1145.5,1279.61 L1146.0,1276.93 L1146.5,1274.18 L1147.0,1271.36 L1147.5,1268.48 L1148.0,1265.53 L1148.5,1262.52 L1149.0,1259.44 L1149.5,1256.30 L1150.0,1253.09 L1150.5,1249.83 L1151.0,1246.51 L1151.5,1243.12 L1152.0,1239.69 L1152.5,1236.19 L1153.0,1232.64 L1153.5,1229.04 L1154.0,1225.38 L1154.5,1221.68 L1155.0,1217.92 L1155.5,1214.11 L1156.0,1210.26 L1156.5,1206.36 L1157.0,1202.41 L1157.5,1198.42 L1158.0,1194.39 L1158.5,1190.31 L1159.0,1186.20 L1159.5,1182.04 L1160.0,1177.85 L1160.5,1173.62 L1161.0,1169.36 L1161.5,1165.06 L1162.0,1160.72 L1162.5,1156.36 L1163.0,1151.96 L1163.5,1147.54 L1164.0,1143.08 L1164.5,1138.60 L1165.0,1134.09 L1165.5,1129.56 L1166.0,1125.00 L1166.5,1120.41 L1167.0,1115.81 L1167.5,1111.19 L1168.0,1106.54 L1168.5,1101.88 L1169.0,1097.20 L1169.5,1092.50 L1170.5,1083.06 L1171.5,1073.56 L1172.5,1064.01 L1173.5,1054.43 L1174.5,1044.81 L1175.5,1035.17 L1176.5,1025.51 L1177.5,1015.84 L1178.5,1006.16 L1179.5,996.49 L1180.5,986.82 L1181.5,977.16 L1182.5,967.52 L1183.5,957.90 L1184.5,948.31 L1185.5,938.76 L1186.5,929.23 L1187.5,919.76 L1188.5,910.32 L1189.5,900.94 L1190.5,891.60 L1191.5,882.32 L1192.5,873.10 L1193.5,863.95 L1194.5,854.85 L1195.5,845.83 L1196.5,836.87 L1197.5,827.98 L1198.5,819.17 L1199.5,810.44 L1200.5,801.78 L1201.5,793.20 L1202.5,784.69 L1203.5,776.27 L1204.5,767.94 L1205.5,759.68 L1206.5,751.51 L1207.5,743.43 L1208.5,735.43 L1209.5,727.52 L1210.5,719.69 L1211.5,711.95 L1212.5,704.30 L1213.5,696.74 L1214.5,689.26 L1215.5,681.87 L1216.5,674.57 L1217.5,667.36 L1218.5,660.23 L1219.5,653.19 L1220.5,646.24 L1221.5,639.37 L1222.5,632.59 L1223.5,625.90 L1224.5,619.29 L1225.5,612.77 L1226.5,606.32 L1227.5,599.97 L1228.5,593.69 L1229.5,587.50 L1230.5,581.39 L1231.5,575.36 L1232.5,569.41 L1233.5,563.54 L1234.5,557.74 L1235.5,552.03 L1236.5,546.39 L1237.5,540.83 L1238.5,535.34 L1239.5,529.93 L1240.5,524.59 L1241.5,519.32 L1242.5,514.13 L1243.5,509.00 L1244.5,503.95 L1245.5,498.97 L1246.5,494.05 L1247.5,489.20 L1248.5,484.42 L1249.5,479.70 L1250.5,475.05 L1251.5,470.47 L1252.5,465.94 L1253.5,461.48 L1254.5,457.08 L1255.5,452.74 L1256.5,448.46 L1257.5,444.24 L1258.5,440.08 L1259.5,435.98 L1260.5,431.93 L1261.5,427.94 L1262.5,424.00 L1263.5,420.12 L1264.5,416.28 L1265.5,412.51 L1266.5,408.78 L1267.5,405.11 L1268.5,401.48 L1269.5,397.91 L1270.5,394.38 L1271.5,390.90 L1272.5,387.47 L1273.5,384.08 L1274.5,380.75 L1275.5,377.45 L1276.5,374.20 L1277.5,371.00 L1278.5,367.84 L1279.5,364.72 L1282.5,355.61 L1285.5,346.86 L1288.5,338.45 L1291.5,330.37 L1294.5,322.61 L1297.5,315.14 L1300.5,307.96 L1303.5,301.05 L1306.5,294.41 L1309.5,288.01 L1312.5,281.85 L1315.5,275.91 L1318.5,270.19 L1321.5,264.68 L1324.5,259.37 L1327.5,254.25 L1330.5,249.31 L1333.5,244.54 L1336.5,239.94 L1339.5,235.49 L1342.5,231.20 L1345.5,227.06 L1348.5,223.05 L1351.5,219.18 L1354.5,215.43 L1357.5,211.81 L1360.5,208.30 L1363.5,204.91 L1366.5,201.63 L1369.5,198.45 L1372.5,195.37 L1375.5,192.38 L1378.5,189.49 L1381.5,186.69 L1384.5,183.97 L1387.5,181.34 L1390.5,178.78 L1393.5,176.30 L1396.5,173.89 L1399.5,171.55 L1402.5,169.28 L1405.5,167.07 L1408.5,164.93 L1411.5,162.85 L1414.5,160.82 L1417.5,158.85 L1420.5,156.94 L1423.5,155.08 L1426.5,153.26 L1429.5,151.50 L1432.5,149.78 L1435.5,148.11 L1438.5,146.49 L1441.5,144.90 L1444.5,143.36 L1447.5,141.85 L1450.5,140.39 L1453.5,138.96 L1456.5,137.57 L1459.5,136.21 L1462.5,134.88 L1465.5,133.59 L1468.5,132.33 L1471.5,131.10 L1474.5,129.90 L1477.5,128.73 L1480.5,127.58 L1483.5,126.47 L1486.5,125.37 L1489.5,124.31 L1492.5,123.26 L1495.5,122.25 L1498.5,121.25 L1501.5,120.28 L1504.5,119.33 L1507.5,118.40 L1510.5,117.49 L1513.5,116.60 L1516.5,115.73 L1519.5,114.88 L1522.5,114.04 L1525.5,113.23 L1528.5,112.43 L1531.5,111.65 L1534.5,110.88 L1537.5,110.13 L1540.5,109.40 L1543.5,108.68 L1546.5,107.98 L1549.5,107.29 L1552.5,106.61 L1555.5,105.95 L1558.5,105.30 L1561.5,104.66 L1564.5,104.04 L1567.5,103.43 L1570.5,102.83 L1573.5,102.24 L1576.5,101.66 L1579.5,101.09 L1582.5,100.54 L1585.5,99.99 L1588.5,99.46 L1591.5,98.93 L1594.5,98.42 L1597.5,97.91 L1600.5,97.41 L1603.5,96.93 L1606.5,96.45 L1609.5,95.98 L1612.5,95.51 L1615.5,95.06 L1618.5,94.62 L1621.5,94.18 L1624.5,93.75 L1627.5,93.32 L1630.5,92.91 L1633.5,92.50 L1636.5,92.10 L1639.5,91.70 L1642.5,91.32 L1645.5,90.93 L1648.5,90.56 L1651.5,90.19 L1654.5,89.83 L1657.5,89.47 L1660.5,89.12 L1663.5,88.77 L1666.5,88.43 L1669.5,88.10 L1672.5,87.77 L1675.5,87.45 L1678.5,87.13 L1681.5,86.81 L1684.5,86.51 L1687.5,86.20 L1690.5,85.90 L1693.5,85.61 L1696.5,85.32 L1699.5,85.03 L1702.5,84.75 L1705.5,84.47 L1708.5,84.20 L1711.5,83.93 L1714.5,83.67 L1717.5,83.41 L1720.5,83.15 L1723.5,82.90 L1726.5,82.65 L1729.5,82.40 L1732.5,82.16 L1735.5,81.92 L1738.5,81.69 L1741.5,81.45 L1744.5,81.22 L1747.5,81.00 L1750.5,80.78 L1753.5,80.56 L1756.5,80.34 L1759.5,80.13 L1762.5,79.92 L1765.5,79.71 L1768.5,79.51 L1771.5,79.31 L1774.5,79.11 L1777.5,78.91 L1780.5,78.72 L1783.5,78.53 L1786.5,78.34 L1789.5,78.15 L1792.5,77.97 L1795.5,77.79 L1798.5,77.61 L1801.5,77.43 L1804.5,77.26 L1807.5,77.09 L1810.5,76.92 L1813.5,76.75 L1816.5,76.58 L1819.5,76.42 L1822.5,76.26 L1825.5,76.10 L1828.5,75.94 L1831.5,75.79"/>
</g>
<text transform="translate(241.60,1419.90) scale(0.9580,1)" font-size="58.0" fill="#404040" text-anchor="middle">1542.7</text>
<text transform="translate(419.06,1419.90) scale(0.9580,1)" font-size="58.0" fill="#404040" text-anchor="middle">1542.8</text>
<text transform="translate(596.52,1419.90) scale(0.9580,1)" font-size="58.0" fill="#404040" text-anchor="middle">1542.9</text>
<text transform="translate(773.98,1419.90) scale(0.9580,1)" font-size="58.0" fill="#404040" text-anchor="middle">1543</text>
<text transform="translate(951.44,1419.90) scale(0.9580,1)" font-size="58.0" fill="#404040" text-anchor="middle">1543.1</text>
<text transform="translate(1128.90,1419.90) scale(0.9580,1)" font-size="58.0" fill="#404040" text-anchor="middle">1543.2</text>
<text transform="translate(1306.36,1419.90) scale(0.9580,1)" font-size="58.0" fill="#404040" text-anchor="middle">1543.3</text>
<text transform="translate(1483.82,1419.90) scale(0.9580,1)" font-size="58.0" fill="#404040" text-anchor="middle">1543.4</text>
<text transform="translate(1661.28,1419.90) scale(0.9580,1)" font-size="58.0" fill="#404040" text-anchor="middle">1543.5</text>
<text transform="translate(158.00,81.00) scale(0.9580,1)" font-size="58.0" fill="#404040" text-anchor="end">1</text>
<text transform="translate(158.00,279.50) scale(0.9580,1)" font-size="58.0" fill="#404040" text-anchor="end">0.9</text>
<text transform="translate(158.00,478.00) scale(0.9580,1)" font-size="58.0" fill="#404040" text-anchor="end">0.8</text>
<text transform="translate(158.00,676.50) scale(0.9580,1)" font-size="58.0" fill="#404040" text-anchor="end">0.7</text>
<text transform="translate(158.00,875.00) scale(0.9580,1)" font-size="58.0" fill="#404040" text-anchor="end">0.6</text>
<text transform="translate(158.00,1073.50) scale(0.9580,1)" font-size="58.0" fill="#404040" text-anchor="end">0.5</text>
<text transform="translate(158.00,1272.00) scale(0.9580,1)" font-size="58.0" fill="#404040" text-anchor="end">0.4</text>
<text transform="translate(771.45,1485.80) scale(1.0423,1)" font-size="67.5" fill="#404040">Wavelength, nm</text>
<text transform="translate(70.10,878.85) rotate(-90) scale(1.0518,1)" font-size="67.5" fill="#262626">Transmission</text>
<rect x="1358.5" y="750.5" width="432" height="572" fill="#ffffff" stroke="#222222" stroke-width="5" shape-rendering="crispEdges"/>
<rect x="1392" y="783" width="174" height="6" fill="#0072BD" shape-rendering="crispEdges"/>
<rect x="1392" y="846" width="174" height="5" fill="#F7500A" shape-rendering="crispEdges"/>
<rect x="1392" y="909" width="174" height="5" fill="#FFB000" shape-rendering="crispEdges"/>
<rect x="1392" y="959" width="174" height="5" fill="#8E2A96" shape-rendering="crispEdges"/>
<rect x="1392" y="1009" width="174" height="6" fill="#58AE18" shape-rendering="crispEdges"/>
<rect x="1392" y="1072" width="174" height="5" fill="#00BEEE" shape-rendering="crispEdges"/>
<rect x="1392" y="1147" width="174" height="5" fill="#BE0A2E" shape-rendering="crispEdges"/>
<rect x="1392" y="1210" width="174" height="5" fill="#0072BD" shape-rendering="crispEdges"/>
<rect x="1392" y="1273" width="174" height="5" fill="#F7500A" shape-rendering="crispEdges"/>
<text transform="translate(1581.55,807.70) scale(1.0772,1)" font-size="52.5" fill="#000">Vacuum</text>
<text transform="translate(1578.55,857.10) scale(1.1315,1)" font-size="52.5" fill="#000"><tspan x="0.00" y="0.00">H</tspan><tspan x="36.79" y="24.90" font-size="39.0">2</tspan></text>
<text transform="translate(1581.15,932.95) scale(1.0522,1)" font-size="52.5" fill="#000">Air</text>
<text transform="translate(1579.85,983.40) scale(1.0784,1)" font-size="52.5" fill="#000">CO</text>
<text transform="translate(1580.15,1034.10) scale(1.1112,1)" font-size="52.5" fill="#000">NO</text>
<text transform="translate(1578.21,1080.85) scale(1.1286,1)" font-size="52.5" fill="#000"><tspan x="0.00" y="0.00">H</tspan><tspan x="37.19" y="25.25" font-size="39.0">2</tspan><tspan x="54.60" y="0.75">S</tspan></text>
<text transform="translate(1577.97,1157.60) scale(1.1330,1)" font-size="52.5" fill="#000"><tspan x="0.00" y="0.00">C</tspan><tspan x="33.40" y="26.00" font-size="39.0">6</tspan><tspan x="52.36" y="-0.60">H</tspan><tspan x="89.17" y="26.00" font-size="39.0">6</tspan></text>
<text transform="translate(1580.15,1234.00) scale(1.1311,1)" font-size="52.5" fill="#000">Hg</text>
<text transform="translate(1578.05,1280.00) scale(1.0417,1)" font-size="52.5" fill="#000"><tspan x="0.00" y="0.00">CCl</tspan><tspan x="84.76" y="25.10" font-size="39.0">4</tspan></text>
</svg>
</body></html>
